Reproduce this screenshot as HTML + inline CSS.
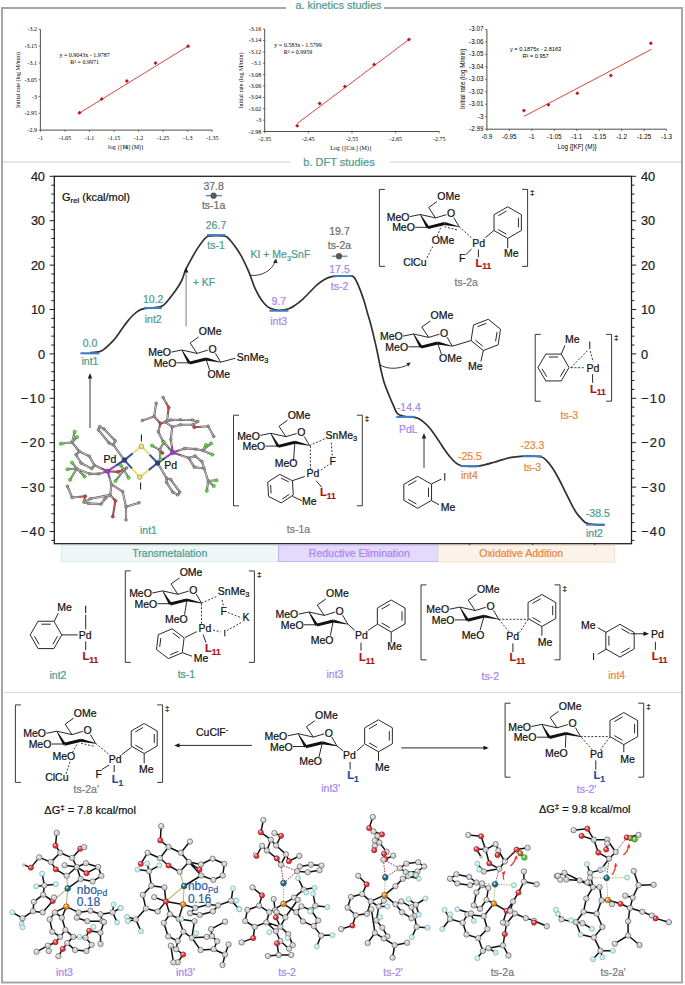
<!DOCTYPE html>
<html><head><meta charset="utf-8"><style>
html,body{margin:0;padding:0;background:#fff;width:685px;height:985px;overflow:hidden}
svg{display:block;font-family:"Liberation Sans",sans-serif}
</style></head><body>
<svg width="685" height="985" viewBox="0 0 685 985">
<rect x="2" y="8" width="680" height="974.5" fill="none" stroke="#a6a6a6" stroke-width="2"/>
<rect x="286" y="0" width="98" height="12" fill="#fff"/>
<text x="338.5" y="9" font-size="10.9" fill="#4f9a8f" stroke="#4f9a8f" stroke-width="0.22" text-anchor="middle" font-family="Liberation Sans">a. kinetics studies</text>
<line x1="3" y1="162" x2="290" y2="162" stroke="#e0dede" stroke-width="1.5"/>
<line x1="390" y1="162" x2="681" y2="162" stroke="#e0dede" stroke-width="1.5"/>
<text x="339" y="166" font-size="11" fill="#4f9a8f" stroke="#4f9a8f" stroke-width="0.22" text-anchor="middle" font-family="Liberation Sans">b. DFT studies</text>
<line x1="3" y1="692.5" x2="681" y2="692.5" stroke="#dcdcdc" stroke-width="1.2"/>
<g font-family="Liberation Serif" font-size="6" fill="#000">
<line x1="40.4" y1="29.4" x2="40.4" y2="130.1" stroke="#222" stroke-width="0.8"/>
<line x1="40.4" y1="130.1" x2="212.2" y2="130.1" stroke="#222" stroke-width="0.8"/>
<line x1="38.60" y1="29.40" x2="40.4" y2="29.40" stroke="#222" stroke-width="0.6"/>
<text x="36.90" y="31.40" text-anchor="end">-3.2</text>
<line x1="38.60" y1="46.18" x2="40.4" y2="46.18" stroke="#222" stroke-width="0.6"/>
<text x="36.90" y="48.18" text-anchor="end">-3.15</text>
<line x1="38.60" y1="62.97" x2="40.4" y2="62.97" stroke="#222" stroke-width="0.6"/>
<text x="36.90" y="64.97" text-anchor="end">-3.1</text>
<line x1="38.60" y1="79.75" x2="40.4" y2="79.75" stroke="#222" stroke-width="0.6"/>
<text x="36.90" y="81.75" text-anchor="end">-3.05</text>
<line x1="38.60" y1="96.53" x2="40.4" y2="96.53" stroke="#222" stroke-width="0.6"/>
<text x="36.90" y="98.53" text-anchor="end">-3</text>
<line x1="38.60" y1="113.32" x2="40.4" y2="113.32" stroke="#222" stroke-width="0.6"/>
<text x="36.90" y="115.32" text-anchor="end">-2.95</text>
<line x1="38.60" y1="130.10" x2="40.4" y2="130.10" stroke="#222" stroke-width="0.6"/>
<text x="36.90" y="132.10" text-anchor="end">-2.9</text>
<line x1="40.40" y1="130.1" x2="40.40" y2="131.9" stroke="#222" stroke-width="0.6"/>
<text x="40.40" y="139.50" text-anchor="middle">-1</text>
<line x1="64.94" y1="130.1" x2="64.94" y2="131.9" stroke="#222" stroke-width="0.6"/>
<text x="64.94" y="139.50" text-anchor="middle">-1.05</text>
<line x1="89.49" y1="130.1" x2="89.49" y2="131.9" stroke="#222" stroke-width="0.6"/>
<text x="89.49" y="139.50" text-anchor="middle">-1.1</text>
<line x1="114.03" y1="130.1" x2="114.03" y2="131.9" stroke="#222" stroke-width="0.6"/>
<text x="114.03" y="139.50" text-anchor="middle">-1.15</text>
<line x1="138.57" y1="130.1" x2="138.57" y2="131.9" stroke="#222" stroke-width="0.6"/>
<text x="138.57" y="139.50" text-anchor="middle">-1.2</text>
<line x1="163.11" y1="130.1" x2="163.11" y2="131.9" stroke="#222" stroke-width="0.6"/>
<text x="163.11" y="139.50" text-anchor="middle">-1.25</text>
<line x1="187.66" y1="130.1" x2="187.66" y2="131.9" stroke="#222" stroke-width="0.6"/>
<text x="187.66" y="139.50" text-anchor="middle">-1.3</text>
<line x1="212.20" y1="130.1" x2="212.20" y2="131.9" stroke="#222" stroke-width="0.6"/>
<text x="212.20" y="139.50" text-anchor="middle">-1.35</text>
<line x1="77.9" y1="114" x2="189.7" y2="45.2" stroke="#d0312d" stroke-width="0.9"/>
<path d="M77.60 112.70L79.60 110.70L81.60 112.70L79.60 114.70Z" fill="#c0171c"/>
<path d="M99.70 98.90L101.70 96.90L103.70 98.90L101.70 100.90Z" fill="#c0171c"/>
<path d="M124.90 81.10L126.90 79.10L128.90 81.10L126.90 83.10Z" fill="#c0171c"/>
<path d="M153.50 63.00L155.50 61.00L157.50 63.00L155.50 65.00Z" fill="#c0171c"/>
<path d="M186.00 46.20L188.00 44.20L190.00 46.20L188.00 48.20Z" fill="#c0171c"/>
<text x="84.6" y="56.5" text-anchor="middle" font-size="6">y = 0.9043x - 1.9787</text>
<text x="84.6" y="63.70" text-anchor="middle" font-size="6">R² = 0.9971</text>
<text x="126" y="148.6" text-anchor="middle">log {[<tspan font-weight="bold">16</tspan>] (M)}</text>
<text transform="translate(19.5,80) rotate(-90)" text-anchor="middle">Initial rate (log M/min)</text>
</g>
<g font-family="Liberation Serif" font-size="6" fill="#000">
<line x1="264.7" y1="29.1" x2="264.7" y2="131.5" stroke="#222" stroke-width="0.8"/>
<line x1="264.7" y1="131.5" x2="439.3" y2="131.5" stroke="#222" stroke-width="0.8"/>
<line x1="262.90" y1="29.10" x2="264.7" y2="29.10" stroke="#222" stroke-width="0.6"/>
<text x="261.20" y="31.10" text-anchor="end">-3.16</text>
<line x1="262.90" y1="40.48" x2="264.7" y2="40.48" stroke="#222" stroke-width="0.6"/>
<text x="261.20" y="42.48" text-anchor="end">-3.14</text>
<line x1="262.90" y1="51.86" x2="264.7" y2="51.86" stroke="#222" stroke-width="0.6"/>
<text x="261.20" y="53.86" text-anchor="end">-3.12</text>
<line x1="262.90" y1="63.23" x2="264.7" y2="63.23" stroke="#222" stroke-width="0.6"/>
<text x="261.20" y="65.23" text-anchor="end">-3.1</text>
<line x1="262.90" y1="74.61" x2="264.7" y2="74.61" stroke="#222" stroke-width="0.6"/>
<text x="261.20" y="76.61" text-anchor="end">-3.08</text>
<line x1="262.90" y1="85.99" x2="264.7" y2="85.99" stroke="#222" stroke-width="0.6"/>
<text x="261.20" y="87.99" text-anchor="end">-3.06</text>
<line x1="262.90" y1="97.37" x2="264.7" y2="97.37" stroke="#222" stroke-width="0.6"/>
<text x="261.20" y="99.37" text-anchor="end">-3.04</text>
<line x1="262.90" y1="108.74" x2="264.7" y2="108.74" stroke="#222" stroke-width="0.6"/>
<text x="261.20" y="110.74" text-anchor="end">-3.02</text>
<line x1="262.90" y1="120.12" x2="264.7" y2="120.12" stroke="#222" stroke-width="0.6"/>
<text x="261.20" y="122.12" text-anchor="end">-3</text>
<line x1="262.90" y1="131.50" x2="264.7" y2="131.50" stroke="#222" stroke-width="0.6"/>
<text x="261.20" y="133.50" text-anchor="end">-2.98</text>
<line x1="264.70" y1="131.5" x2="264.70" y2="133.3" stroke="#222" stroke-width="0.6"/>
<text x="264.70" y="140.60" text-anchor="middle">-2.35</text>
<line x1="308.35" y1="131.5" x2="308.35" y2="133.3" stroke="#222" stroke-width="0.6"/>
<text x="308.35" y="140.60" text-anchor="middle">-2.45</text>
<line x1="352.00" y1="131.5" x2="352.00" y2="133.3" stroke="#222" stroke-width="0.6"/>
<text x="352.00" y="140.60" text-anchor="middle">-2.55</text>
<line x1="395.65" y1="131.5" x2="395.65" y2="133.3" stroke="#222" stroke-width="0.6"/>
<text x="395.65" y="140.60" text-anchor="middle">-2.65</text>
<line x1="439.30" y1="131.5" x2="439.30" y2="133.3" stroke="#222" stroke-width="0.6"/>
<text x="439.30" y="140.60" text-anchor="middle">-2.75</text>
<line x1="297.2" y1="123.5" x2="409" y2="39.5" stroke="#d0312d" stroke-width="0.9"/>
<path d="M295.20 125.80L297.20 123.80L299.20 125.80L297.20 127.80Z" fill="#c0171c"/>
<path d="M317.70 103.60L319.70 101.60L321.70 103.60L319.70 105.60Z" fill="#c0171c"/>
<path d="M342.90 86.50L344.90 84.50L346.90 86.50L344.90 88.50Z" fill="#c0171c"/>
<path d="M372.10 64.40L374.10 62.40L376.10 64.40L374.10 66.40Z" fill="#c0171c"/>
<path d="M407.00 39.50L409.00 37.50L411.00 39.50L409.00 41.50Z" fill="#c0171c"/>
<text x="298" y="46.5" text-anchor="middle" font-size="6">y = 0.583x - 1.5799</text>
<text x="298" y="53.70" text-anchor="middle" font-size="6">R² = 0.9959</text>
<text x="351" y="149.6" text-anchor="middle">Log {[Cat.] (M)}</text>
<text transform="translate(242.8,80.5) rotate(-90)" text-anchor="middle">Initial rate (log M/min)</text>
</g>
<g font-family="Liberation Sans" font-size="6.3" fill="#000">
<line x1="486.9" y1="29.4" x2="486.9" y2="129.2" stroke="#222" stroke-width="0.8"/>
<line x1="486.9" y1="129.2" x2="666.6" y2="129.2" stroke="#222" stroke-width="0.8"/>
<line x1="485.10" y1="29.40" x2="486.9" y2="29.40" stroke="#222" stroke-width="0.6"/>
<text x="483.40" y="31.40" text-anchor="end">-3.07</text>
<line x1="485.10" y1="41.88" x2="486.9" y2="41.88" stroke="#222" stroke-width="0.6"/>
<text x="483.40" y="43.88" text-anchor="end">-3.06</text>
<line x1="485.10" y1="54.35" x2="486.9" y2="54.35" stroke="#222" stroke-width="0.6"/>
<text x="483.40" y="56.35" text-anchor="end">-3.05</text>
<line x1="485.10" y1="66.82" x2="486.9" y2="66.82" stroke="#222" stroke-width="0.6"/>
<text x="483.40" y="68.82" text-anchor="end">-3.04</text>
<line x1="485.10" y1="79.30" x2="486.9" y2="79.30" stroke="#222" stroke-width="0.6"/>
<text x="483.40" y="81.30" text-anchor="end">-3.03</text>
<line x1="485.10" y1="91.77" x2="486.9" y2="91.77" stroke="#222" stroke-width="0.6"/>
<text x="483.40" y="93.77" text-anchor="end">-3.02</text>
<line x1="485.10" y1="104.25" x2="486.9" y2="104.25" stroke="#222" stroke-width="0.6"/>
<text x="483.40" y="106.25" text-anchor="end">-3.01</text>
<line x1="485.10" y1="116.72" x2="486.9" y2="116.72" stroke="#222" stroke-width="0.6"/>
<text x="483.40" y="118.72" text-anchor="end">-3</text>
<line x1="485.10" y1="129.20" x2="486.9" y2="129.20" stroke="#222" stroke-width="0.6"/>
<text x="483.40" y="131.20" text-anchor="end">-2.99</text>
<line x1="486.90" y1="129.2" x2="486.90" y2="131.0" stroke="#222" stroke-width="0.6"/>
<text x="486.90" y="138.80" text-anchor="middle">-0.9</text>
<line x1="509.36" y1="129.2" x2="509.36" y2="131.0" stroke="#222" stroke-width="0.6"/>
<text x="509.36" y="138.80" text-anchor="middle">-0.95</text>
<line x1="531.83" y1="129.2" x2="531.83" y2="131.0" stroke="#222" stroke-width="0.6"/>
<text x="531.83" y="138.80" text-anchor="middle">-1</text>
<line x1="554.29" y1="129.2" x2="554.29" y2="131.0" stroke="#222" stroke-width="0.6"/>
<text x="554.29" y="138.80" text-anchor="middle">-1.05</text>
<line x1="576.75" y1="129.2" x2="576.75" y2="131.0" stroke="#222" stroke-width="0.6"/>
<text x="576.75" y="138.80" text-anchor="middle">-1.1</text>
<line x1="599.21" y1="129.2" x2="599.21" y2="131.0" stroke="#222" stroke-width="0.6"/>
<text x="599.21" y="138.80" text-anchor="middle">-1.15</text>
<line x1="621.67" y1="129.2" x2="621.67" y2="131.0" stroke="#222" stroke-width="0.6"/>
<text x="621.67" y="138.80" text-anchor="middle">-1.2</text>
<line x1="644.14" y1="129.2" x2="644.14" y2="131.0" stroke="#222" stroke-width="0.6"/>
<text x="644.14" y="138.80" text-anchor="middle">-1.25</text>
<line x1="666.60" y1="129.2" x2="666.60" y2="131.0" stroke="#222" stroke-width="0.6"/>
<text x="666.60" y="138.80" text-anchor="middle">-1.3</text>
<line x1="523.9" y1="116.4" x2="651.5" y2="49.3" stroke="#d0312d" stroke-width="0.9"/>
<path d="M521.90 110.40L523.90 108.40L525.90 110.40L523.90 112.40Z" fill="#c0171c"/>
<path d="M546.40 104.70L548.40 102.70L550.40 104.70L548.40 106.70Z" fill="#c0171c"/>
<path d="M575.30 93.20L577.30 91.20L579.30 93.20L577.30 95.20Z" fill="#c0171c"/>
<path d="M608.80 75.40L610.80 73.40L612.80 75.40L610.80 77.40Z" fill="#c0171c"/>
<path d="M648.80 43.20L650.80 41.20L652.80 43.20L650.80 45.20Z" fill="#c0171c"/>
<text x="535.6" y="50.5" text-anchor="middle" font-size="5.6">y = 0.1875x - 2.8163</text>
<text x="535.6" y="57.70" text-anchor="middle" font-size="5.6">R² = 0.957</text>
<text x="577" y="148.6" text-anchor="middle">Log {[KF] (M)}</text>
<text transform="translate(465.4,78.8) rotate(-90)" text-anchor="middle">Initial rate (log M/min)</text>
</g>
<rect x="54.3" y="176.3" width="577.2" height="367.40000000000003" fill="none" stroke="#222" stroke-width="1.3"/>
<line x1="51.3" y1="540.38" x2="54.3" y2="540.38" stroke="#222" stroke-width="1"/>
<line x1="631.5" y1="540.38" x2="634.5" y2="540.38" stroke="#222" stroke-width="1"/>
<line x1="49.599999999999994" y1="531.50" x2="54.3" y2="531.50" stroke="#222" stroke-width="1"/>
<line x1="631.5" y1="531.50" x2="636.2" y2="531.50" stroke="#222" stroke-width="1"/>
<text x="20.70" y="536.10" font-size="12.8" fill="#222" stroke="#222" stroke-width="0.22" textLength="24.2" lengthAdjust="spacing">−40</text>
<text x="641.1" y="536.10" font-size="12.8" fill="#222" stroke="#222" stroke-width="0.22" textLength="24.2" lengthAdjust="spacing">−40</text>
<line x1="51.3" y1="522.62" x2="54.3" y2="522.62" stroke="#222" stroke-width="1"/>
<line x1="631.5" y1="522.62" x2="634.5" y2="522.62" stroke="#222" stroke-width="1"/>
<line x1="51.3" y1="513.74" x2="54.3" y2="513.74" stroke="#222" stroke-width="1"/>
<line x1="631.5" y1="513.74" x2="634.5" y2="513.74" stroke="#222" stroke-width="1"/>
<line x1="51.3" y1="504.86" x2="54.3" y2="504.86" stroke="#222" stroke-width="1"/>
<line x1="631.5" y1="504.86" x2="634.5" y2="504.86" stroke="#222" stroke-width="1"/>
<line x1="51.3" y1="495.98" x2="54.3" y2="495.98" stroke="#222" stroke-width="1"/>
<line x1="631.5" y1="495.98" x2="634.5" y2="495.98" stroke="#222" stroke-width="1"/>
<line x1="49.599999999999994" y1="487.10" x2="54.3" y2="487.10" stroke="#222" stroke-width="1"/>
<line x1="631.5" y1="487.10" x2="636.2" y2="487.10" stroke="#222" stroke-width="1"/>
<text x="20.70" y="491.70" font-size="12.8" fill="#222" stroke="#222" stroke-width="0.22" textLength="24.2" lengthAdjust="spacing">−30</text>
<text x="641.1" y="491.70" font-size="12.8" fill="#222" stroke="#222" stroke-width="0.22" textLength="24.2" lengthAdjust="spacing">−30</text>
<line x1="51.3" y1="478.22" x2="54.3" y2="478.22" stroke="#222" stroke-width="1"/>
<line x1="631.5" y1="478.22" x2="634.5" y2="478.22" stroke="#222" stroke-width="1"/>
<line x1="51.3" y1="469.34" x2="54.3" y2="469.34" stroke="#222" stroke-width="1"/>
<line x1="631.5" y1="469.34" x2="634.5" y2="469.34" stroke="#222" stroke-width="1"/>
<line x1="51.3" y1="460.46" x2="54.3" y2="460.46" stroke="#222" stroke-width="1"/>
<line x1="631.5" y1="460.46" x2="634.5" y2="460.46" stroke="#222" stroke-width="1"/>
<line x1="51.3" y1="451.58" x2="54.3" y2="451.58" stroke="#222" stroke-width="1"/>
<line x1="631.5" y1="451.58" x2="634.5" y2="451.58" stroke="#222" stroke-width="1"/>
<line x1="49.599999999999994" y1="442.70" x2="54.3" y2="442.70" stroke="#222" stroke-width="1"/>
<line x1="631.5" y1="442.70" x2="636.2" y2="442.70" stroke="#222" stroke-width="1"/>
<text x="20.70" y="447.30" font-size="12.8" fill="#222" stroke="#222" stroke-width="0.22" textLength="24.2" lengthAdjust="spacing">−20</text>
<text x="641.1" y="447.30" font-size="12.8" fill="#222" stroke="#222" stroke-width="0.22" textLength="24.2" lengthAdjust="spacing">−20</text>
<line x1="51.3" y1="433.82" x2="54.3" y2="433.82" stroke="#222" stroke-width="1"/>
<line x1="631.5" y1="433.82" x2="634.5" y2="433.82" stroke="#222" stroke-width="1"/>
<line x1="51.3" y1="424.94" x2="54.3" y2="424.94" stroke="#222" stroke-width="1"/>
<line x1="631.5" y1="424.94" x2="634.5" y2="424.94" stroke="#222" stroke-width="1"/>
<line x1="51.3" y1="416.06" x2="54.3" y2="416.06" stroke="#222" stroke-width="1"/>
<line x1="631.5" y1="416.06" x2="634.5" y2="416.06" stroke="#222" stroke-width="1"/>
<line x1="51.3" y1="407.18" x2="54.3" y2="407.18" stroke="#222" stroke-width="1"/>
<line x1="631.5" y1="407.18" x2="634.5" y2="407.18" stroke="#222" stroke-width="1"/>
<line x1="49.599999999999994" y1="398.30" x2="54.3" y2="398.30" stroke="#222" stroke-width="1"/>
<line x1="631.5" y1="398.30" x2="636.2" y2="398.30" stroke="#222" stroke-width="1"/>
<text x="20.70" y="402.90" font-size="12.8" fill="#222" stroke="#222" stroke-width="0.22" textLength="24.2" lengthAdjust="spacing">−10</text>
<text x="641.1" y="402.90" font-size="12.8" fill="#222" stroke="#222" stroke-width="0.22" textLength="24.2" lengthAdjust="spacing">−10</text>
<line x1="51.3" y1="389.42" x2="54.3" y2="389.42" stroke="#222" stroke-width="1"/>
<line x1="631.5" y1="389.42" x2="634.5" y2="389.42" stroke="#222" stroke-width="1"/>
<line x1="51.3" y1="380.54" x2="54.3" y2="380.54" stroke="#222" stroke-width="1"/>
<line x1="631.5" y1="380.54" x2="634.5" y2="380.54" stroke="#222" stroke-width="1"/>
<line x1="51.3" y1="371.66" x2="54.3" y2="371.66" stroke="#222" stroke-width="1"/>
<line x1="631.5" y1="371.66" x2="634.5" y2="371.66" stroke="#222" stroke-width="1"/>
<line x1="51.3" y1="362.78" x2="54.3" y2="362.78" stroke="#222" stroke-width="1"/>
<line x1="631.5" y1="362.78" x2="634.5" y2="362.78" stroke="#222" stroke-width="1"/>
<line x1="49.599999999999994" y1="353.90" x2="54.3" y2="353.90" stroke="#222" stroke-width="1"/>
<line x1="631.5" y1="353.90" x2="636.2" y2="353.90" stroke="#222" stroke-width="1"/>
<text x="38.00" y="358.50" font-size="12.8" fill="#222" stroke="#222" stroke-width="0.22" textLength="6.9" lengthAdjust="spacing">0</text>
<text x="641.1" y="358.50" font-size="12.8" fill="#222" stroke="#222" stroke-width="0.22" textLength="6.9" lengthAdjust="spacing">0</text>
<line x1="51.3" y1="345.02" x2="54.3" y2="345.02" stroke="#222" stroke-width="1"/>
<line x1="631.5" y1="345.02" x2="634.5" y2="345.02" stroke="#222" stroke-width="1"/>
<line x1="51.3" y1="336.14" x2="54.3" y2="336.14" stroke="#222" stroke-width="1"/>
<line x1="631.5" y1="336.14" x2="634.5" y2="336.14" stroke="#222" stroke-width="1"/>
<line x1="51.3" y1="327.26" x2="54.3" y2="327.26" stroke="#222" stroke-width="1"/>
<line x1="631.5" y1="327.26" x2="634.5" y2="327.26" stroke="#222" stroke-width="1"/>
<line x1="51.3" y1="318.38" x2="54.3" y2="318.38" stroke="#222" stroke-width="1"/>
<line x1="631.5" y1="318.38" x2="634.5" y2="318.38" stroke="#222" stroke-width="1"/>
<line x1="49.599999999999994" y1="309.50" x2="54.3" y2="309.50" stroke="#222" stroke-width="1"/>
<line x1="631.5" y1="309.50" x2="636.2" y2="309.50" stroke="#222" stroke-width="1"/>
<text x="30.90" y="314.10" font-size="12.8" fill="#222" stroke="#222" stroke-width="0.22" textLength="14.0" lengthAdjust="spacing">10</text>
<text x="641.1" y="314.10" font-size="12.8" fill="#222" stroke="#222" stroke-width="0.22" textLength="14.0" lengthAdjust="spacing">10</text>
<line x1="51.3" y1="300.62" x2="54.3" y2="300.62" stroke="#222" stroke-width="1"/>
<line x1="631.5" y1="300.62" x2="634.5" y2="300.62" stroke="#222" stroke-width="1"/>
<line x1="51.3" y1="291.74" x2="54.3" y2="291.74" stroke="#222" stroke-width="1"/>
<line x1="631.5" y1="291.74" x2="634.5" y2="291.74" stroke="#222" stroke-width="1"/>
<line x1="51.3" y1="282.86" x2="54.3" y2="282.86" stroke="#222" stroke-width="1"/>
<line x1="631.5" y1="282.86" x2="634.5" y2="282.86" stroke="#222" stroke-width="1"/>
<line x1="51.3" y1="273.98" x2="54.3" y2="273.98" stroke="#222" stroke-width="1"/>
<line x1="631.5" y1="273.98" x2="634.5" y2="273.98" stroke="#222" stroke-width="1"/>
<line x1="49.599999999999994" y1="265.10" x2="54.3" y2="265.10" stroke="#222" stroke-width="1"/>
<line x1="631.5" y1="265.10" x2="636.2" y2="265.10" stroke="#222" stroke-width="1"/>
<text x="30.90" y="269.70" font-size="12.8" fill="#222" stroke="#222" stroke-width="0.22" textLength="14.0" lengthAdjust="spacing">20</text>
<text x="641.1" y="269.70" font-size="12.8" fill="#222" stroke="#222" stroke-width="0.22" textLength="14.0" lengthAdjust="spacing">20</text>
<line x1="51.3" y1="256.22" x2="54.3" y2="256.22" stroke="#222" stroke-width="1"/>
<line x1="631.5" y1="256.22" x2="634.5" y2="256.22" stroke="#222" stroke-width="1"/>
<line x1="51.3" y1="247.34" x2="54.3" y2="247.34" stroke="#222" stroke-width="1"/>
<line x1="631.5" y1="247.34" x2="634.5" y2="247.34" stroke="#222" stroke-width="1"/>
<line x1="51.3" y1="238.46" x2="54.3" y2="238.46" stroke="#222" stroke-width="1"/>
<line x1="631.5" y1="238.46" x2="634.5" y2="238.46" stroke="#222" stroke-width="1"/>
<line x1="51.3" y1="229.58" x2="54.3" y2="229.58" stroke="#222" stroke-width="1"/>
<line x1="631.5" y1="229.58" x2="634.5" y2="229.58" stroke="#222" stroke-width="1"/>
<line x1="49.599999999999994" y1="220.70" x2="54.3" y2="220.70" stroke="#222" stroke-width="1"/>
<line x1="631.5" y1="220.70" x2="636.2" y2="220.70" stroke="#222" stroke-width="1"/>
<text x="30.90" y="225.30" font-size="12.8" fill="#222" stroke="#222" stroke-width="0.22" textLength="14.0" lengthAdjust="spacing">30</text>
<text x="641.1" y="225.30" font-size="12.8" fill="#222" stroke="#222" stroke-width="0.22" textLength="14.0" lengthAdjust="spacing">30</text>
<line x1="51.3" y1="211.82" x2="54.3" y2="211.82" stroke="#222" stroke-width="1"/>
<line x1="631.5" y1="211.82" x2="634.5" y2="211.82" stroke="#222" stroke-width="1"/>
<line x1="51.3" y1="202.94" x2="54.3" y2="202.94" stroke="#222" stroke-width="1"/>
<line x1="631.5" y1="202.94" x2="634.5" y2="202.94" stroke="#222" stroke-width="1"/>
<line x1="51.3" y1="194.06" x2="54.3" y2="194.06" stroke="#222" stroke-width="1"/>
<line x1="631.5" y1="194.06" x2="634.5" y2="194.06" stroke="#222" stroke-width="1"/>
<line x1="51.3" y1="185.18" x2="54.3" y2="185.18" stroke="#222" stroke-width="1"/>
<line x1="631.5" y1="185.18" x2="634.5" y2="185.18" stroke="#222" stroke-width="1"/>
<line x1="49.599999999999994" y1="176.30" x2="54.3" y2="176.30" stroke="#222" stroke-width="1"/>
<line x1="631.5" y1="176.30" x2="636.2" y2="176.30" stroke="#222" stroke-width="1"/>
<text x="30.90" y="180.90" font-size="12.8" fill="#222" stroke="#222" stroke-width="0.22" textLength="14.0" lengthAdjust="spacing">40</text>
<text x="641.1" y="180.90" font-size="12.8" fill="#222" stroke="#222" stroke-width="0.22" textLength="14.0" lengthAdjust="spacing">40</text>
<line x1="469.4" y1="543.7" x2="469.4" y2="546.2" stroke="#222" stroke-width="1"/>
<line x1="532.7" y1="543.7" x2="532.7" y2="546.2" stroke="#222" stroke-width="1"/>
<line x1="594.8" y1="543.7" x2="594.8" y2="546.2" stroke="#222" stroke-width="1"/>
<text x="62" y="201" font-size="11" fill="#111" stroke="#111" stroke-width="0.22">G<tspan font-size="7.8" dy="2.3">rel</tspan><tspan dy="-2.3"> (kcal/mol)</tspan></text>
<path d="M90 352.6 C91.48 352.47 96.57 352.35 98.9 351.8 C101.23 351.25 102.18 350.57 104 349.3 C105.82 348.03 107.85 346.13 109.8 344.2 C111.75 342.27 113.75 340.13 115.7 337.7 C117.65 335.27 119.57 332.28 121.5 329.6 C123.43 326.92 125.35 324.03 127.3 321.6 C129.25 319.17 131.25 316.87 133.2 315 C135.15 313.13 137.18 311.47 139 310.4 C140.82 309.33 141.93 309.02 144.1 308.6 C146.27 308.18 149.08 308.28 152 307.9 C154.92 307.52 159.13 307.30 161.6 306.3 C164.07 305.30 164.97 303.85 166.8 301.9 C168.63 299.95 170.67 297.22 172.6 294.6 C174.53 291.98 176.82 288.70 178.4 286.2 C179.98 283.70 180.87 282.40 182.1 279.6 C183.33 276.80 184.20 272.95 185.8 269.4 C187.40 265.85 189.75 261.80 191.7 258.3 C193.65 254.80 195.55 251.42 197.5 248.4 C199.45 245.38 201.65 242.22 203.4 240.2 C205.15 238.18 205.90 237.07 208 236.3 C210.10 235.53 213.08 235.60 216 235.6 C218.92 235.60 223.13 235.53 225.5 236.3 C227.87 237.07 228.45 238.28 230.2 240.2 C231.95 242.12 234.05 244.98 236 247.8 C237.95 250.62 240.03 253.70 241.9 257.1 C243.77 260.50 245.70 264.85 247.2 268.2 C248.70 271.55 249.70 274.08 250.9 277.2 C252.10 280.32 253.08 283.82 254.4 286.9 C255.72 289.98 257.22 293.02 258.8 295.7 C260.38 298.38 262.08 300.93 263.9 303 C265.72 305.07 267.18 306.88 269.7 308.1 C272.22 309.32 275.83 310.18 279 310.3 C282.17 310.42 285.98 309.67 288.7 308.8 C291.42 307.93 292.98 306.68 295.3 305.1 C297.62 303.52 300.17 301.48 302.6 299.3 C305.03 297.12 307.47 294.43 309.9 292 C312.33 289.57 314.77 286.77 317.2 284.7 C319.63 282.63 322.07 280.93 324.5 279.6 C326.93 278.27 328.88 277.33 331.8 276.7 C334.72 276.07 338.60 275.88 342 275.8 C345.40 275.72 350.05 275.73 352.2 276.2 C354.35 276.67 353.95 277.25 354.9 278.6 C355.85 279.95 356.87 282.00 357.9 284.3 C358.93 286.60 360.02 289.43 361.1 292.4 C362.18 295.37 363.32 298.58 364.4 302.1 C365.48 305.62 366.52 309.70 367.6 313.5 C368.68 317.30 369.82 320.83 370.9 324.9 C371.98 328.97 373.02 333.30 374.1 337.9 C375.18 342.50 376.30 347.37 377.4 352.5 C378.50 357.63 379.62 363.83 380.7 368.7 C381.78 373.57 382.55 377.37 383.9 381.7 C385.25 386.03 387.17 390.63 388.8 394.7 C390.43 398.77 392.25 402.95 393.7 406.1 C395.15 409.25 395.53 411.85 397.5 413.6 C399.47 415.35 402.68 415.97 405.5 416.6 C408.32 417.23 412.18 417.03 414.4 417.4 C416.62 417.77 417.20 417.98 418.8 418.8 C420.40 419.62 422.25 420.85 424 422.3 C425.75 423.75 427.55 425.47 429.3 427.5 C431.05 429.53 432.75 432.02 434.5 434.5 C436.25 436.98 438.05 439.77 439.8 442.4 C441.55 445.03 443.25 447.82 445 450.3 C446.75 452.78 448.55 455.25 450.3 457.3 C452.05 459.35 453.75 461.23 455.5 462.6 C457.25 463.97 458.47 464.88 460.8 465.5 C463.13 466.12 466.58 466.20 469.5 466.3 C472.42 466.40 475.67 466.37 478.3 466.1 C480.93 465.83 482.67 465.35 485.3 464.7 C487.93 464.05 491.17 463.05 494.1 462.2 C497.03 461.35 499.98 460.42 502.9 459.6 C505.82 458.78 508.68 457.85 511.6 457.3 C514.52 456.75 517.00 456.52 520.4 456.3 C523.80 456.08 528.47 455.88 532 456.0 C535.53 456.12 539.22 456.28 541.6 457 C543.98 457.72 544.78 458.90 546.3 460.3 C547.82 461.70 549.25 463.45 550.7 465.4 C552.15 467.35 553.55 469.57 555 472 C556.45 474.43 557.93 477.20 559.4 480 C560.87 482.80 562.33 485.87 563.8 488.8 C565.27 491.73 566.73 494.68 568.2 497.6 C569.67 500.52 571.15 503.63 572.6 506.3 C574.05 508.97 575.45 511.53 576.9 513.6 C578.35 515.67 579.72 517.12 581.3 518.7 C582.88 520.28 584.12 522.12 586.4 523.1 C588.68 524.08 591.95 524.28 595 524.6 C598.05 524.92 603.08 524.93 604.7 525" fill="none" stroke="#303030" stroke-width="1.7" stroke-linejoin="round"/>
<line x1="80.5" y1="353.3" x2="99.4" y2="353.3" stroke="#3f7fc0" stroke-width="2.1"/>
<line x1="144" y1="308.0" x2="161.9" y2="308.0" stroke="#3f7fc0" stroke-width="2.1"/>
<line x1="206.9" y1="235.1" x2="225.5" y2="235.1" stroke="#3f7fc0" stroke-width="2.1"/>
<line x1="269.5" y1="310.7" x2="288.5" y2="310.7" stroke="#3f7fc0" stroke-width="2.1"/>
<line x1="333.5" y1="276.0" x2="351.5" y2="276.0" stroke="#3f7fc0" stroke-width="2.1"/>
<line x1="396.3" y1="416.9" x2="414.8" y2="416.9" stroke="#3f7fc0" stroke-width="2.1"/>
<line x1="460.6" y1="466.1" x2="478.6" y2="466.1" stroke="#3f7fc0" stroke-width="2.1"/>
<line x1="522.7" y1="456.2" x2="541.5" y2="456.2" stroke="#3f7fc0" stroke-width="2.1"/>
<line x1="586.2" y1="524.6" x2="604.4" y2="524.6" stroke="#3f7fc0" stroke-width="2.1"/>
<line x1="205.7" y1="195.7" x2="222" y2="195.7" stroke="#3f7fc0" stroke-width="1.2"/>
<circle cx="213.6" cy="195.7" r="3.1" fill="#5a5a5a"/>
<line x1="331.9" y1="256.2" x2="347.4" y2="256.2" stroke="#3f7fc0" stroke-width="1.2"/>
<circle cx="339" cy="256.2" r="3.1" fill="#5a5a5a"/>
<text x="90" y="346.6" font-size="10.5" fill="#4f9a8f" stroke="#4f9a8f" stroke-width="0.22" text-anchor="middle">0.0</text>
<text x="90" y="364.5" font-size="10.5" fill="#4f9a8f" stroke="#4f9a8f" stroke-width="0.22" text-anchor="middle">int1</text>
<text x="153.2" y="303.3" font-size="10.5" fill="#4f9a8f" stroke="#4f9a8f" stroke-width="0.22" text-anchor="middle">10.2</text>
<text x="153.2" y="322.5" font-size="10.5" fill="#4f9a8f" stroke="#4f9a8f" stroke-width="0.22" text-anchor="middle">int2</text>
<text x="216" y="229.1" font-size="10.5" fill="#4f9a8f" stroke="#4f9a8f" stroke-width="0.22" text-anchor="middle">26.7</text>
<text x="216" y="249.3" font-size="10.5" fill="#4f9a8f" stroke="#4f9a8f" stroke-width="0.22" text-anchor="middle">ts-1</text>
<text x="213.6" y="189.7" font-size="10.5" fill="#6d6d6d" stroke="#6d6d6d" stroke-width="0.22" text-anchor="middle">37.8</text>
<text x="213.6" y="209.4" font-size="10.5" fill="#6d6d6d" stroke="#6d6d6d" stroke-width="0.22" text-anchor="middle">ts-1a</text>
<text x="278.7" y="304.5" font-size="10.5" fill="#a886ee" stroke="#a886ee" stroke-width="0.22" text-anchor="middle">9.7</text>
<text x="278.7" y="325" font-size="10.5" fill="#a886ee" stroke="#a886ee" stroke-width="0.22" text-anchor="middle">int3</text>
<text x="339.5" y="272.5" font-size="10.5" fill="#a886ee" stroke="#a886ee" stroke-width="0.22" text-anchor="middle">17.5</text>
<text x="339.5" y="290.3" font-size="10.5" fill="#a886ee" stroke="#a886ee" stroke-width="0.22" text-anchor="middle">ts-2</text>
<text x="339.5" y="235.2" font-size="10.5" fill="#6d6d6d" stroke="#6d6d6d" stroke-width="0.22" text-anchor="middle">19.7</text>
<text x="339.5" y="248.8" font-size="10.5" fill="#6d6d6d" stroke="#6d6d6d" stroke-width="0.22" text-anchor="middle">ts-2a</text>
<text x="408.8" y="411.4" font-size="10.5" fill="#a886ee" stroke="#a886ee" stroke-width="0.22" text-anchor="middle">-14.4</text>
<text x="408.3" y="432.9" font-size="10.5" fill="#a886ee" stroke="#a886ee" stroke-width="0.22" text-anchor="middle">PdL</text>
<text x="470" y="459.6" font-size="10.5" fill="#e8873a" stroke="#e8873a" stroke-width="0.22" text-anchor="middle">-25.5</text>
<text x="469.4" y="479" font-size="10.5" fill="#e8873a" stroke="#e8873a" stroke-width="0.22" text-anchor="middle">int4</text>
<text x="532.4" y="449.4" font-size="10.5" fill="#e8873a" stroke="#e8873a" stroke-width="0.22" text-anchor="middle">-23.3</text>
<text x="532.4" y="470.7" font-size="10.5" fill="#e8873a" stroke="#e8873a" stroke-width="0.22" text-anchor="middle">ts-3</text>
<text x="597.8" y="516.5" font-size="10.5" fill="#4f9a8f" stroke="#4f9a8f" stroke-width="0.22" text-anchor="middle">-38.5</text>
<text x="594.5" y="536.8" font-size="10.5" fill="#4f9a8f" stroke="#4f9a8f" stroke-width="0.22" text-anchor="middle">int2</text>
<line x1="186.1" y1="326.4" x2="186.1" y2="271" stroke="#8a8a8a" stroke-width="1.1"/>
<path d="M183.9 272.5 L186.1 266.8 L188.3 272.5 Z" fill="#222"/>
<text x="192.7" y="286.2" font-size="10.5" fill="#4f9a8f" stroke="#4f9a8f" stroke-width="0.22">+ KF</text>
<text x="250.4" y="258" font-size="10.5" fill="#4f9a8f" stroke="#4f9a8f" stroke-width="0.22">KI + Me<tspan font-size="7.5" dy="2.5">3</tspan><tspan dy="-2.5">SnF</tspan></text>
<path d="M249.6 275.1 C262 277 272 270 275.1 261.5" fill="none" stroke="#222" stroke-width="0.9"/>
<path d="M273 262.5 L276.2 258.5 L277.5 263.3 Z" fill="#222"/>
<path d="M379.4 364.6 C388 370 400 369 408.5 364.5" fill="none" stroke="#222" stroke-width="0.9"/>
<path d="M406.5 363 L410.8 362.6 L408.3 366.4 Z" fill="#222"/>
<line x1="424" y1="468" x2="424" y2="437" stroke="#222" stroke-width="0.9"/>
<path d="M421.8 438.5 L424 433 L426.2 438.5 Z" fill="#222"/>
<line x1="90" y1="428" x2="90" y2="377" stroke="#222" stroke-width="0.9"/>
<path d="M87.8 378.5 L90 373 L92.2 378.5 Z" fill="#222"/>
<rect x="61.3" y="545.5" width="217.1" height="16.2" fill="#eef7f5" stroke="#cfe8e3" stroke-width="0.8"/>
<rect x="278.4" y="545" width="159.8" height="16.5" fill="#e4dafb" stroke="#b9a3f0" stroke-width="0.8"/>
<rect x="438.2" y="545.3" width="176.5" height="16.8" fill="#fbf2ea" stroke="#f3d9c2" stroke-width="0.8"/>
<text x="169.8" y="557" font-size="10.5" fill="#4f9a8f" stroke="#4f9a8f" stroke-width="0.22" text-anchor="middle">Transmetalation</text>
<text x="359.3" y="557" font-size="10.5" fill="#a886ee" stroke="#a886ee" stroke-width="0.22" text-anchor="middle">Reductive Elimination</text>
<text x="521.2" y="557" font-size="10.5" fill="#e8873a" stroke="#e8873a" stroke-width="0.22" text-anchor="middle">Oxidative Addition</text>
<text x="198.8" y="335.4" font-size="10.5" fill="#111" stroke="#111" stroke-width="0.22" text-anchor="start" >OMe</text>
<path d="M198.6 337.0 L190.1 343.0 L197.0 353.4" fill="none" stroke="#111" stroke-width="0.9"/>
<text x="171.0" y="356.2" font-size="10.5" fill="#111" stroke="#111" stroke-width="0.22" text-anchor="end" >MeO</text>
<line x1="171.4" y1="352.1" x2="181.8" y2="350.0" stroke="#111" stroke-width="0.9"/>
<line x1="181.8" y1="350.0" x2="197.0" y2="353.4" stroke="#111" stroke-width="0.9"/>
<line x1="197.0" y1="353.4" x2="207.8" y2="350.2" stroke="#111" stroke-width="0.9"/>
<text x="212.5" y="352.8" font-size="10.5" fill="#111" stroke="#111" stroke-width="0.22" text-anchor="middle" >O</text>
<line x1="215.4" y1="353.2" x2="220.6" y2="362.2" stroke="#111" stroke-width="0.9"/>
<path d="M220.66 361.91 L206.32 357.53 L205.68 360.47 L220.54 362.49 Z" fill="#111"/>
<path d="M205.64 357.54 L189.04 361.64 L189.76 364.56 L206.36 360.46 Z" fill="#111"/>
<path d="M190.70 362.35 L182.06 349.85 L181.54 350.15 L188.10 363.85 Z" fill="#111"/>
<text x="176.4" y="366.8" font-size="10.5" fill="#111" stroke="#111" stroke-width="0.22" text-anchor="end" >MeO</text>
<line x1="176.6" y1="362.8" x2="189.4" y2="362.8" stroke="#111" stroke-width="0.9"/>
<line x1="206.0" y1="359.0" x2="209.5" y2="369.8" stroke="#111" stroke-width="0.9"/>
<text x="207.4" y="378.4" font-size="10.5" fill="#111" stroke="#111" stroke-width="0.22" text-anchor="start" >OMe</text>
<line x1="220.6" y1="362.2" x2="235.1" y2="358.3" stroke="#111" stroke-width="0.9"/>
<text x="236.8" y="360.8" font-size="10.5" fill="#111" stroke="#111" stroke-width="0.22" text-anchor="start" >SnMe<tspan font-size="7.5" dy="2.5">3</tspan></text>
<text x="430.5" y="319.4" font-size="10.5" fill="#111" stroke="#111" stroke-width="0.22" text-anchor="start" >OMe</text>
<path d="M430.3 321.0 L421.8 327.0 L428.7 337.4" fill="none" stroke="#111" stroke-width="0.9"/>
<text x="402.7" y="340.2" font-size="10.5" fill="#111" stroke="#111" stroke-width="0.22" text-anchor="end" >MeO</text>
<line x1="403.1" y1="336.1" x2="413.5" y2="334.0" stroke="#111" stroke-width="0.9"/>
<line x1="413.5" y1="334.0" x2="428.7" y2="337.4" stroke="#111" stroke-width="0.9"/>
<line x1="428.7" y1="337.4" x2="439.5" y2="334.2" stroke="#111" stroke-width="0.9"/>
<text x="444.2" y="336.8" font-size="10.5" fill="#111" stroke="#111" stroke-width="0.22" text-anchor="middle" >O</text>
<line x1="447.1" y1="337.2" x2="452.3" y2="346.2" stroke="#111" stroke-width="0.9"/>
<path d="M452.36 345.91 L438.02 341.53 L437.38 344.47 L452.24 346.49 Z" fill="#111"/>
<path d="M437.34 341.54 L420.74 345.64 L421.46 348.56 L438.06 344.46 Z" fill="#111"/>
<path d="M422.40 346.35 L413.76 333.85 L413.24 334.15 L419.80 347.85 Z" fill="#111"/>
<text x="408.1" y="350.8" font-size="10.5" fill="#111" stroke="#111" stroke-width="0.22" text-anchor="end" >MeO</text>
<line x1="408.3" y1="346.8" x2="421.1" y2="346.8" stroke="#111" stroke-width="0.9"/>
<line x1="437.7" y1="343.0" x2="441.2" y2="353.8" stroke="#111" stroke-width="0.9"/>
<text x="439.1" y="362.4" font-size="10.5" fill="#111" stroke="#111" stroke-width="0.22" text-anchor="start" >OMe</text>
<line x1="452.3" y1="346.2" x2="470.9" y2="340.6" stroke="#111" stroke-width="0.9"/>
<path d="M471.05 340.56 L473.52 324.96 L488.27 319.29 L500.55 329.24 L498.08 344.84 L483.33 350.51 Z" fill="none" stroke="#111" stroke-width="0.9" stroke-linejoin="round"/>
<line x1="477.6" y1="326.6" x2="486.3" y2="323.3" stroke="#111" stroke-width="0.9"/>
<line x1="497.1" y1="331.9" x2="495.6" y2="341.2" stroke="#111" stroke-width="0.9"/>
<line x1="482.7" y1="346.1" x2="475.4" y2="340.2" stroke="#111" stroke-width="0.9"/>
<line x1="483.4" y1="350.2" x2="480.9" y2="361.4" stroke="#111" stroke-width="0.9"/>
<text x="468.0" y="369.6" font-size="10.5" fill="#111" stroke="#111" stroke-width="0.22" text-anchor="start" >Me</text>
<path d="M384.9 189.4 H379.4 V266.4 H384.9" fill="none" stroke="#222" stroke-width="0.9"/>
<path d="M522.1 189.4 H527.6 V266.4 H522.1" fill="none" stroke="#222" stroke-width="0.9"/>
<text x="530.1" y="195.4" font-size="8" fill="#222" stroke="#222" stroke-width="0.22" text-anchor="start" >‡</text>
<text x="437.3" y="199.9" font-size="10.5" fill="#111" stroke="#111" stroke-width="0.22" text-anchor="start" >OMe</text>
<path d="M437.1 201.5 L428.6 207.5 L435.5 217.9" fill="none" stroke="#111" stroke-width="0.9"/>
<text x="409.5" y="220.7" font-size="10.5" fill="#111" stroke="#111" stroke-width="0.22" text-anchor="end" >MeO</text>
<line x1="409.9" y1="216.6" x2="420.3" y2="214.5" stroke="#111" stroke-width="0.9"/>
<line x1="420.3" y1="214.5" x2="435.5" y2="217.9" stroke="#111" stroke-width="0.9"/>
<line x1="435.5" y1="217.9" x2="446.3" y2="214.7" stroke="#111" stroke-width="0.9"/>
<text x="451.0" y="217.3" font-size="10.5" fill="#111" stroke="#111" stroke-width="0.22" text-anchor="middle" >O</text>
<line x1="453.9" y1="217.7" x2="459.1" y2="226.7" stroke="#111" stroke-width="0.9"/>
<path d="M459.16 226.41 L444.82 222.03 L444.18 224.97 L459.04 226.99 Z" fill="#111"/>
<path d="M444.14 222.04 L427.54 226.14 L428.26 229.06 L444.86 224.96 Z" fill="#111"/>
<path d="M429.20 226.85 L420.56 214.35 L420.04 214.65 L426.60 228.35 Z" fill="#111"/>
<text x="414.9" y="231.3" font-size="10.5" fill="#111" stroke="#111" stroke-width="0.22" text-anchor="end" >MeO</text>
<line x1="415.1" y1="227.3" x2="427.9" y2="227.3" stroke="#111" stroke-width="0.9"/>
<line x1="442.1" y1="224.5" x2="437.2" y2="236.0" stroke="#222" stroke-width="0.9" stroke-dasharray="2 1.6"/>
<text x="431.7" y="244.2" font-size="10.5" fill="#111" stroke="#111" stroke-width="0.22" text-anchor="start" >OMe</text>
<line x1="444.5" y1="226.8" x2="457.5" y2="230.0" stroke="#222" stroke-width="0.9" stroke-dasharray="2 1.6"/>
<line x1="432.8" y1="246.5" x2="426.8" y2="257.9" stroke="#222" stroke-width="0.9" stroke-dasharray="2 1.6"/>
<text x="403.2" y="265.5" font-size="10.5" fill="#111" stroke="#111" stroke-width="0.22" text-anchor="start" >ClCu</text>
<line x1="459.1" y1="226.7" x2="471.5" y2="237.7" stroke="#222" stroke-width="0.9" stroke-dasharray="2 1.6"/>
<text x="472.2" y="246.5" font-size="10.5" fill="#111" stroke="#111" stroke-width="0.22" text-anchor="start" >Pd</text>
<line x1="485.3" y1="237.7" x2="493.9" y2="230.5" stroke="#111" stroke-width="0.9"/>
<path d="M494.02 230.50 L494.02 214.70 L507.70 206.80 L521.38 214.70 L521.38 230.50 L507.70 238.40 Z" fill="none" stroke="#111" stroke-width="0.9" stroke-linejoin="round"/>
<line x1="498.3" y1="215.7" x2="506.4" y2="211.0" stroke="#111" stroke-width="0.9"/>
<line x1="518.4" y1="217.9" x2="518.4" y2="227.3" stroke="#111" stroke-width="0.9"/>
<line x1="506.4" y1="234.2" x2="498.3" y2="229.5" stroke="#111" stroke-width="0.9"/>
<line x1="507.7" y1="238.4" x2="507.7" y2="248.2" stroke="#111" stroke-width="0.9"/>
<text x="504.1" y="257.4" font-size="10.5" fill="#111" stroke="#111" stroke-width="0.22" text-anchor="start" >Me</text>
<text x="459.0" y="261.7" font-size="10.5" fill="#111" stroke="#111" stroke-width="0.22" text-anchor="start" >F</text>
<line x1="465.6" y1="254.8" x2="471.5" y2="249.1" stroke="#111" stroke-width="0.9"/>
<line x1="478.4" y1="249.5" x2="478.4" y2="257.4" stroke="#111" stroke-width="0.9"/>
<text x="475.5" y="266.6" font-size="11" fill="#a4161a" stroke="#a4161a" stroke-width="0.22" font-weight="bold">L<tspan font-size="8.5" dy="2.8">11</tspan></text>
<text x="466.2" y="286.2" font-size="10.5" fill="#7a7a7a" stroke="#7a7a7a" stroke-width="0.22" text-anchor="middle" >ts-2a</text>
<path d="M540.7 334.4 H535.2 V401.2 H540.7" fill="none" stroke="#222" stroke-width="0.9"/>
<path d="M606.1 334.4 H611.6 V401.2 H606.1" fill="none" stroke="#222" stroke-width="0.9"/>
<text x="614.1" y="340.4" font-size="8" fill="#222" stroke="#222" stroke-width="0.22" text-anchor="start" >‡</text>
<path d="M569.00 367.50 L561.25 380.92 L545.75 380.92 L538.00 367.50 L545.75 354.08 L561.25 354.08 Z" fill="none" stroke="#111" stroke-width="0.9" stroke-linejoin="round"/>
<line x1="564.9" y1="368.8" x2="560.3" y2="376.7" stroke="#111" stroke-width="0.9"/>
<line x1="546.7" y1="376.7" x2="542.1" y2="368.8" stroke="#111" stroke-width="0.9"/>
<line x1="548.9" y1="357.0" x2="558.1" y2="357.0" stroke="#111" stroke-width="0.9"/>
<line x1="561.3" y1="354.1" x2="565.0" y2="345.3" stroke="#111" stroke-width="0.9"/>
<text x="565.0" y="343.4" font-size="10.5" fill="#111" stroke="#111" stroke-width="0.22" text-anchor="start" >Me</text>
<line x1="589.8" y1="341.6" x2="589.8" y2="348.9" stroke="#111" stroke-width="1.0"/>
<line x1="570.9" y1="367.7" x2="588.6" y2="349.5" stroke="#222" stroke-width="0.9" stroke-dasharray="2 1.6"/>
<line x1="570.9" y1="367.7" x2="585.3" y2="367.7" stroke="#222" stroke-width="0.9" stroke-dasharray="2 1.6"/>
<line x1="590.2" y1="351.0" x2="593.2" y2="361.8" stroke="#222" stroke-width="0.9" stroke-dasharray="2 1.6"/>
<text x="586.6" y="371.6" font-size="10.5" fill="#111" stroke="#111" stroke-width="0.22" text-anchor="start" >Pd</text>
<line x1="592.6" y1="374.2" x2="592.6" y2="382.8" stroke="#111" stroke-width="0.9"/>
<text x="590.0" y="392.6" font-size="11" fill="#a4161a" stroke="#a4161a" stroke-width="0.22" font-weight="bold">L<tspan font-size="8.5" dy="2.8">11</tspan></text>
<text x="569.3" y="418.9" font-size="10.5" fill="#e8873a" stroke="#e8873a" stroke-width="0.22" text-anchor="middle" >ts-3</text>
<path d="M239.0 415.2 H233.5 V505.8 H239.0" fill="none" stroke="#222" stroke-width="0.9"/>
<path d="M356.8 415.2 H362.3 V505.8 H356.8" fill="none" stroke="#222" stroke-width="0.9"/>
<text x="364.8" y="421.2" font-size="8" fill="#222" stroke="#222" stroke-width="0.22" text-anchor="start" >‡</text>
<text x="287.7" y="418.7" font-size="10.5" fill="#111" stroke="#111" stroke-width="0.22" text-anchor="start" >OMe</text>
<path d="M287.5 420.3 L279.0 426.3 L285.9 436.7" fill="none" stroke="#111" stroke-width="0.9"/>
<text x="259.9" y="439.5" font-size="10.5" fill="#111" stroke="#111" stroke-width="0.22" text-anchor="end" >MeO</text>
<line x1="260.3" y1="435.4" x2="270.7" y2="433.3" stroke="#111" stroke-width="0.9"/>
<line x1="270.7" y1="433.3" x2="285.9" y2="436.7" stroke="#111" stroke-width="0.9"/>
<line x1="285.9" y1="436.7" x2="296.7" y2="433.5" stroke="#111" stroke-width="0.9"/>
<text x="301.4" y="436.1" font-size="10.5" fill="#111" stroke="#111" stroke-width="0.22" text-anchor="middle" >O</text>
<line x1="304.3" y1="436.5" x2="309.5" y2="445.5" stroke="#111" stroke-width="0.9"/>
<path d="M309.56 445.21 L295.22 440.83 L294.58 443.77 L309.44 445.79 Z" fill="#111"/>
<path d="M294.54 440.84 L277.94 444.94 L278.66 447.86 L295.26 443.76 Z" fill="#111"/>
<path d="M279.60 445.65 L270.96 433.15 L270.44 433.45 L277.00 447.15 Z" fill="#111"/>
<text x="265.3" y="450.1" font-size="10.5" fill="#111" stroke="#111" stroke-width="0.22" text-anchor="end" >MeO</text>
<line x1="265.5" y1="446.1" x2="278.3" y2="446.1" stroke="#111" stroke-width="0.9"/>
<line x1="294.9" y1="442.3" x2="293.5" y2="461.0" stroke="#111" stroke-width="0.9"/>
<text x="297.5" y="467.4" font-size="10.5" fill="#111" stroke="#111" stroke-width="0.22" text-anchor="end" >MeO</text>
<line x1="309.5" y1="445.5" x2="324.6" y2="438.9" stroke="#222" stroke-width="0.9" stroke-dasharray="2 1.6"/>
<text x="325.6" y="438.9" font-size="10.5" fill="#111" stroke="#111" stroke-width="0.22" text-anchor="start" >SnMe<tspan font-size="7.5" dy="2.5">3</tspan></text>
<line x1="331.3" y1="442.7" x2="332.2" y2="455.5" stroke="#222" stroke-width="0.9" stroke-dasharray="2 1.6"/>
<text x="329.4" y="464.5" font-size="10.5" fill="#111" stroke="#111" stroke-width="0.22" text-anchor="start" >F</text>
<line x1="310.4" y1="446.0" x2="310.4" y2="469.2" stroke="#222" stroke-width="0.9" stroke-dasharray="2 1.6"/>
<text x="306.6" y="476.9" font-size="10.5" fill="#111" stroke="#111" stroke-width="0.22" text-anchor="start" >Pd</text>
<line x1="328.4" y1="464.8" x2="320.8" y2="470.2" stroke="#222" stroke-width="0.9" stroke-dasharray="2 1.6"/>
<line x1="304.7" y1="476.5" x2="292.4" y2="480.7" stroke="#111" stroke-width="0.9"/>
<path d="M292.49 480.81 L293.24 495.09 L281.25 502.88 L268.51 496.39 L267.76 482.11 L279.75 474.32 Z" fill="none" stroke="#111" stroke-width="0.9" stroke-linejoin="round"/>
<line x1="289.3" y1="494.4" x2="282.2" y2="499.0" stroke="#111" stroke-width="0.9"/>
<line x1="271.1" y1="493.3" x2="270.6" y2="484.9" stroke="#111" stroke-width="0.9"/>
<line x1="281.1" y1="478.1" x2="288.7" y2="481.9" stroke="#111" stroke-width="0.9"/>
<line x1="292.5" y1="496.4" x2="301.9" y2="500.6" stroke="#111" stroke-width="0.9"/>
<text x="301.9" y="505.3" font-size="10.5" fill="#111" stroke="#111" stroke-width="0.22" text-anchor="start" >Me</text>
<line x1="316.1" y1="480.7" x2="321.8" y2="487.3" stroke="#111" stroke-width="0.9"/>
<text x="319.9" y="495.8" font-size="11" fill="#a4161a" stroke="#a4161a" stroke-width="0.22" font-weight="bold">L<tspan font-size="8.5" dy="2.8">11</tspan></text>
<text x="298.5" y="532.7" font-size="10.5" fill="#7a7a7a" stroke="#7a7a7a" stroke-width="0.22" text-anchor="middle" >ts-1a</text>
<path d="M417.70 476.30 L431.56 484.30 L431.56 500.30 L417.70 508.30 L403.84 500.30 L403.84 484.30 Z" fill="none" stroke="#111" stroke-width="0.9" stroke-linejoin="round"/>
<line x1="428.5" y1="487.6" x2="428.5" y2="497.0" stroke="#111" stroke-width="0.9"/>
<line x1="416.4" y1="504.0" x2="408.2" y2="499.3" stroke="#111" stroke-width="0.9"/>
<line x1="408.2" y1="485.3" x2="416.4" y2="480.6" stroke="#111" stroke-width="0.9"/>
<line x1="431.5" y1="484.0" x2="441.4" y2="479.0" stroke="#111" stroke-width="0.9"/>
<line x1="444.8" y1="473.1" x2="444.8" y2="480.7" stroke="#111" stroke-width="1.0"/>
<line x1="431.5" y1="500.6" x2="439.0" y2="504.7" stroke="#111" stroke-width="0.9"/>
<text x="440.8" y="511.1" font-size="10.5" fill="#111" stroke="#111" stroke-width="0.22" text-anchor="start" >Me</text>
<text x="148.5" y="533.6" font-size="10.5" fill="#4f9a8f" stroke="#4f9a8f" stroke-width="0.22" text-anchor="middle" >int1</text>
<path d="M61.80 634.90 L53.90 648.58 L38.10 648.58 L30.20 634.90 L38.10 621.22 L53.90 621.22 Z" fill="none" stroke="#111" stroke-width="0.9" stroke-linejoin="round"/>
<line x1="57.6" y1="636.2" x2="52.9" y2="644.3" stroke="#111" stroke-width="0.9"/>
<line x1="39.1" y1="644.3" x2="34.4" y2="636.2" stroke="#111" stroke-width="0.9"/>
<line x1="41.3" y1="624.2" x2="50.7" y2="624.2" stroke="#111" stroke-width="0.9"/>
<line x1="54.3" y1="621.2" x2="58.2" y2="613.2" stroke="#111" stroke-width="0.9"/>
<text x="57.2" y="610.8" font-size="10.5" fill="#111" stroke="#111" stroke-width="0.22" text-anchor="start" >Me</text>
<line x1="61.8" y1="634.9" x2="77.7" y2="634.9" stroke="#111" stroke-width="0.9"/>
<text x="78.7" y="638.5" font-size="10.5" fill="#111" stroke="#111" stroke-width="0.22" text-anchor="start" >Pd</text>
<line x1="85.7" y1="605.7" x2="85.7" y2="613.2" stroke="#111" stroke-width="1.0"/>
<line x1="85.7" y1="614.8" x2="85.7" y2="629.3" stroke="#111" stroke-width="0.9"/>
<line x1="85.7" y1="641.4" x2="85.7" y2="650.2" stroke="#111" stroke-width="0.9"/>
<text x="82.5" y="660.4" font-size="11" fill="#a4161a" stroke="#a4161a" stroke-width="0.22" font-weight="bold">L<tspan font-size="8.5" dy="2.8">11</tspan></text>
<text x="58.0" y="679.4" font-size="10.5" fill="#4f9a8f" stroke="#4f9a8f" stroke-width="0.22" text-anchor="middle" >int2</text>
<path d="M130.8 570.9 H125.3 V662.4 H130.8" fill="none" stroke="#222" stroke-width="0.9"/>
<path d="M248.9 570.9 H254.4 V662.4 H248.9" fill="none" stroke="#222" stroke-width="0.9"/>
<text x="256.9" y="576.9" font-size="8" fill="#222" stroke="#222" stroke-width="0.22" text-anchor="start" >‡</text>
<text x="179.7" y="576.3" font-size="10.5" fill="#111" stroke="#111" stroke-width="0.22" text-anchor="start" >OMe</text>
<path d="M179.5 577.9 L171.0 583.9 L177.9 594.3" fill="none" stroke="#111" stroke-width="0.9"/>
<text x="151.9" y="597.1" font-size="10.5" fill="#111" stroke="#111" stroke-width="0.22" text-anchor="end" >MeO</text>
<line x1="152.3" y1="593.0" x2="162.7" y2="590.9" stroke="#111" stroke-width="0.9"/>
<line x1="162.7" y1="590.9" x2="177.9" y2="594.3" stroke="#111" stroke-width="0.9"/>
<line x1="177.9" y1="594.3" x2="188.7" y2="591.1" stroke="#111" stroke-width="0.9"/>
<text x="193.4" y="593.7" font-size="10.5" fill="#111" stroke="#111" stroke-width="0.22" text-anchor="middle" >O</text>
<line x1="196.3" y1="594.1" x2="201.5" y2="603.1" stroke="#111" stroke-width="0.9"/>
<path d="M201.56 602.81 L187.22 598.43 L186.58 601.37 L201.44 603.39 Z" fill="#111"/>
<path d="M186.54 598.44 L169.94 602.54 L170.66 605.46 L187.26 601.36 Z" fill="#111"/>
<path d="M171.60 603.25 L162.96 590.75 L162.44 591.05 L169.00 604.75 Z" fill="#111"/>
<text x="157.3" y="607.7" font-size="10.5" fill="#111" stroke="#111" stroke-width="0.22" text-anchor="end" >MeO</text>
<line x1="157.5" y1="603.7" x2="170.3" y2="603.7" stroke="#111" stroke-width="0.9"/>
<line x1="186.9" y1="599.9" x2="184.6" y2="614.7" stroke="#111" stroke-width="0.9"/>
<text x="187.7" y="623.2" font-size="10.5" fill="#111" stroke="#111" stroke-width="0.22" text-anchor="end" >MeO</text>
<line x1="201.5" y1="603.1" x2="216.3" y2="596.5" stroke="#222" stroke-width="0.9" stroke-dasharray="2 1.6"/>
<text x="217.8" y="594.6" font-size="10.5" fill="#111" stroke="#111" stroke-width="0.22" text-anchor="start" >SnMe<tspan font-size="7.5" dy="2.5">3</tspan></text>
<line x1="222.0" y1="599.9" x2="223.7" y2="607.4" stroke="#222" stroke-width="0.9" stroke-dasharray="2 1.6"/>
<text x="220.6" y="614.7" font-size="10.5" fill="#111" stroke="#111" stroke-width="0.22" text-anchor="start" >F</text>
<line x1="228.0" y1="612.6" x2="241.7" y2="617.9" stroke="#222" stroke-width="0.9" stroke-dasharray="2 1.6"/>
<text x="242.4" y="620.5" font-size="10.5" fill="#111" stroke="#111" stroke-width="0.22" text-anchor="start" >K</text>
<line x1="201.5" y1="603.6" x2="201.5" y2="624.3" stroke="#222" stroke-width="0.9" stroke-dasharray="2 1.6"/>
<text x="198.5" y="632.3" font-size="10.5" fill="#111" stroke="#111" stroke-width="0.22" text-anchor="start" >Pd</text>
<line x1="213.1" y1="630.0" x2="220.7" y2="631.9" stroke="#222" stroke-width="0.9" stroke-dasharray="2 1.6"/>
<line x1="224.8" y1="629.8" x2="224.8" y2="636.4" stroke="#111" stroke-width="1.0"/>
<line x1="226.8" y1="630.6" x2="242.8" y2="621.7" stroke="#222" stroke-width="0.9" stroke-dasharray="2 1.6"/>
<line x1="196.7" y1="631.7" x2="185.0" y2="637.5" stroke="#111" stroke-width="0.9"/>
<path d="M184.11 637.84 L182.28 652.73 L168.47 658.59 L156.49 649.56 L158.32 634.67 L172.13 628.81 Z" fill="none" stroke="#111" stroke-width="0.9" stroke-linejoin="round"/>
<line x1="178.4" y1="651.3" x2="170.2" y2="654.8" stroke="#111" stroke-width="0.9"/>
<line x1="159.7" y1="646.9" x2="160.8" y2="638.1" stroke="#111" stroke-width="0.9"/>
<line x1="172.8" y1="632.9" x2="179.9" y2="638.3" stroke="#111" stroke-width="0.9"/>
<line x1="182.3" y1="652.7" x2="192.0" y2="656.2" stroke="#111" stroke-width="0.9"/>
<text x="193.8" y="662.0" font-size="10.5" fill="#111" stroke="#111" stroke-width="0.22" text-anchor="start" >Me</text>
<line x1="203.1" y1="634.5" x2="206.0" y2="642.8" stroke="#111" stroke-width="0.9"/>
<text x="204.9" y="652.1" font-size="11" fill="#a4161a" stroke="#a4161a" stroke-width="0.22" font-weight="bold">L<tspan font-size="8.5" dy="2.8">11</tspan></text>
<text x="186.4" y="678.3" font-size="10.5" fill="#4f9a8f" stroke="#4f9a8f" stroke-width="0.22" text-anchor="middle" >ts-1</text>
<text x="326.0" y="597.4" font-size="10.5" fill="#111" stroke="#111" stroke-width="0.22" text-anchor="start" >OMe</text>
<path d="M325.8 599.0 L317.3 605.0 L324.2 615.4" fill="none" stroke="#111" stroke-width="0.9"/>
<text x="298.2" y="618.2" font-size="10.5" fill="#111" stroke="#111" stroke-width="0.22" text-anchor="end" >MeO</text>
<line x1="298.6" y1="614.1" x2="309.0" y2="612.0" stroke="#111" stroke-width="0.9"/>
<line x1="309.0" y1="612.0" x2="324.2" y2="615.4" stroke="#111" stroke-width="0.9"/>
<line x1="324.2" y1="615.4" x2="335.0" y2="612.2" stroke="#111" stroke-width="0.9"/>
<text x="339.7" y="614.8" font-size="10.5" fill="#111" stroke="#111" stroke-width="0.22" text-anchor="middle" >O</text>
<line x1="342.6" y1="615.2" x2="347.8" y2="624.2" stroke="#111" stroke-width="0.9"/>
<path d="M347.86 623.91 L333.52 619.53 L332.88 622.47 L347.74 624.49 Z" fill="#111"/>
<path d="M332.84 619.54 L316.24 623.64 L316.96 626.56 L333.56 622.46 Z" fill="#111"/>
<path d="M317.90 624.35 L309.26 611.85 L308.74 612.15 L315.30 625.85 Z" fill="#111"/>
<text x="303.6" y="628.8" font-size="10.5" fill="#111" stroke="#111" stroke-width="0.22" text-anchor="end" >MeO</text>
<line x1="303.8" y1="624.8" x2="316.6" y2="624.8" stroke="#111" stroke-width="0.9"/>
<line x1="333.2" y1="621.0" x2="330.4" y2="635.4" stroke="#111" stroke-width="0.9"/>
<text x="333.5" y="643.6" font-size="10.5" fill="#111" stroke="#111" stroke-width="0.22" text-anchor="end" >MeO</text>
<line x1="347.8" y1="624.2" x2="354.9" y2="630.3" stroke="#111" stroke-width="0.9"/>
<text x="354.9" y="638.5" font-size="10.5" fill="#111" stroke="#111" stroke-width="0.22" text-anchor="start" >Pd</text>
<line x1="368.2" y1="630.3" x2="377.4" y2="624.2" stroke="#111" stroke-width="0.9"/>
<path d="M377.34 624.00 L377.34 608.00 L391.20 600.00 L405.06 608.00 L405.06 624.00 L391.20 632.00 Z" fill="none" stroke="#111" stroke-width="0.9" stroke-linejoin="round"/>
<line x1="381.7" y1="609.0" x2="389.9" y2="604.3" stroke="#111" stroke-width="0.9"/>
<line x1="402.0" y1="611.3" x2="402.0" y2="620.7" stroke="#111" stroke-width="0.9"/>
<line x1="389.9" y1="627.7" x2="381.7" y2="623.0" stroke="#111" stroke-width="0.9"/>
<line x1="391.2" y1="632.0" x2="391.2" y2="642.6" stroke="#111" stroke-width="0.9"/>
<text x="387.2" y="649.7" font-size="10.5" fill="#111" stroke="#111" stroke-width="0.22" text-anchor="start" >Me</text>
<line x1="361.0" y1="642.6" x2="361.0" y2="650.7" stroke="#111" stroke-width="0.9"/>
<text x="359.0" y="661.0" font-size="11" fill="#a4161a" stroke="#a4161a" stroke-width="0.22" font-weight="bold">L<tspan font-size="8.5" dy="2.8">11</tspan></text>
<text x="335.0" y="678.3" font-size="10.5" fill="#a886ee" stroke="#a886ee" stroke-width="0.22" text-anchor="middle" >int3</text>
<path d="M426.5 584.9 H421.0 V659.8 H426.5" fill="none" stroke="#222" stroke-width="0.9"/>
<path d="M554.5 584.9 H560.0 V659.8 H554.5" fill="none" stroke="#222" stroke-width="0.9"/>
<text x="562.5" y="590.9" font-size="8" fill="#222" stroke="#222" stroke-width="0.22" text-anchor="start" >‡</text>
<text x="476.9" y="592.5" font-size="10.5" fill="#111" stroke="#111" stroke-width="0.22" text-anchor="start" >OMe</text>
<path d="M476.7 594.1 L468.2 600.1 L475.1 610.5" fill="none" stroke="#111" stroke-width="0.9"/>
<text x="449.1" y="613.3" font-size="10.5" fill="#111" stroke="#111" stroke-width="0.22" text-anchor="end" >MeO</text>
<line x1="449.5" y1="609.2" x2="459.9" y2="607.1" stroke="#111" stroke-width="0.9"/>
<line x1="459.9" y1="607.1" x2="475.1" y2="610.5" stroke="#111" stroke-width="0.9"/>
<line x1="475.1" y1="610.5" x2="485.9" y2="607.3" stroke="#111" stroke-width="0.9"/>
<text x="490.6" y="609.9" font-size="10.5" fill="#111" stroke="#111" stroke-width="0.22" text-anchor="middle" >O</text>
<line x1="493.5" y1="610.3" x2="498.7" y2="619.3" stroke="#111" stroke-width="0.9"/>
<path d="M498.76 619.01 L484.42 614.63 L483.78 617.57 L498.64 619.59 Z" fill="#111"/>
<path d="M483.74 614.64 L467.14 618.74 L467.86 621.66 L484.46 617.56 Z" fill="#111"/>
<path d="M468.80 619.45 L460.16 606.95 L459.64 607.25 L466.20 620.95 Z" fill="#111"/>
<text x="454.5" y="623.9" font-size="10.5" fill="#111" stroke="#111" stroke-width="0.22" text-anchor="end" >MeO</text>
<line x1="454.7" y1="619.9" x2="467.5" y2="619.9" stroke="#111" stroke-width="0.9"/>
<line x1="484.1" y1="616.1" x2="480.1" y2="630.2" stroke="#111" stroke-width="0.9"/>
<text x="484.4" y="639.0" font-size="10.5" fill="#111" stroke="#111" stroke-width="0.22" text-anchor="end" >MeO</text>
<line x1="498.7" y1="619.3" x2="528.2" y2="619.3" stroke="#222" stroke-width="0.9" stroke-dasharray="2 1.6"/>
<line x1="498.7" y1="619.3" x2="509.6" y2="632.4" stroke="#222" stroke-width="0.9" stroke-dasharray="2 1.6"/>
<line x1="528.2" y1="619.3" x2="519.5" y2="632.4" stroke="#222" stroke-width="0.9" stroke-dasharray="2 1.6"/>
<text x="506.3" y="640.1" font-size="10.5" fill="#111" stroke="#111" stroke-width="0.22" text-anchor="start" >Pd</text>
<path d="M528.04 618.50 L528.04 602.50 L541.90 594.50 L555.76 602.50 L555.76 618.50 L541.90 626.50 Z" fill="none" stroke="#111" stroke-width="0.9" stroke-linejoin="round"/>
<line x1="532.4" y1="603.5" x2="540.6" y2="598.8" stroke="#111" stroke-width="0.9"/>
<line x1="552.7" y1="605.8" x2="552.7" y2="615.2" stroke="#111" stroke-width="0.9"/>
<line x1="540.6" y1="622.2" x2="532.4" y2="617.5" stroke="#111" stroke-width="0.9"/>
<line x1="541.9" y1="626.5" x2="541.9" y2="635.7" stroke="#111" stroke-width="0.9"/>
<text x="537.7" y="645.5" font-size="10.5" fill="#111" stroke="#111" stroke-width="0.22" text-anchor="start" >Me</text>
<line x1="512.9" y1="643.4" x2="512.9" y2="652.1" stroke="#111" stroke-width="0.9"/>
<text x="509.6" y="660.9" font-size="11" fill="#a4161a" stroke="#a4161a" stroke-width="0.22" font-weight="bold">L<tspan font-size="8.5" dy="2.8">11</tspan></text>
<text x="490.3" y="679.5" font-size="10.5" fill="#a886ee" stroke="#a886ee" stroke-width="0.22" text-anchor="middle" >ts-2</text>
<path d="M620.00 624.30 L634.20 632.50 L634.20 648.90 L620.00 657.10 L605.80 648.90 L605.80 632.50 Z" fill="none" stroke="#111" stroke-width="0.9" stroke-linejoin="round"/>
<line x1="621.3" y1="628.7" x2="629.7" y2="633.5" stroke="#111" stroke-width="0.9"/>
<line x1="629.7" y1="647.9" x2="621.3" y2="652.7" stroke="#111" stroke-width="0.9"/>
<line x1="608.9" y1="645.6" x2="608.9" y2="635.8" stroke="#111" stroke-width="0.9"/>
<line x1="606.5" y1="632.5" x2="597.7" y2="627.7" stroke="#111" stroke-width="0.9"/>
<text x="581.0" y="628.7" font-size="10.5" fill="#111" stroke="#111" stroke-width="0.22" text-anchor="start" >Me</text>
<line x1="606.5" y1="649.0" x2="597.7" y2="654.2" stroke="#111" stroke-width="0.9"/>
<line x1="593.6" y1="652.8" x2="593.6" y2="660.1" stroke="#111" stroke-width="1.0"/>
<line x1="630.6" y1="633.8" x2="645.0" y2="633.8" stroke="#111" stroke-width="0.9"/>
<path d="M643.5 631.6 L649 633.8 L643.5 636 Z" fill="#111"/>
<text x="651.0" y="638.2" font-size="10.5" fill="#111" stroke="#111" stroke-width="0.22" text-anchor="start" >Pd</text>
<line x1="655.4" y1="641.8" x2="655.4" y2="649.9" stroke="#111" stroke-width="0.9"/>
<text x="651.8" y="660.1" font-size="11" fill="#a4161a" stroke="#a4161a" stroke-width="0.22" font-weight="bold">L<tspan font-size="8.5" dy="2.8">11</tspan></text>
<text x="616.7" y="679.0" font-size="10.5" fill="#e8873a" stroke="#e8873a" stroke-width="0.22" text-anchor="middle" >int4</text>
<path d="M20.9 704.9 H15.4 V782.4 H20.9" fill="none" stroke="#222" stroke-width="0.9"/>
<path d="M157.1 704.9 H162.6 V782.4 H157.1" fill="none" stroke="#222" stroke-width="0.9"/>
<text x="165.1" y="710.9" font-size="8" fill="#222" stroke="#222" stroke-width="0.22" text-anchor="start" >‡</text>
<text x="73.8" y="716.6" font-size="10.5" fill="#111" stroke="#111" stroke-width="0.22" text-anchor="start" >OMe</text>
<path d="M73.6 718.2 L65.1 724.2 L72.0 734.6" fill="none" stroke="#111" stroke-width="0.9"/>
<text x="46.0" y="737.4" font-size="10.5" fill="#111" stroke="#111" stroke-width="0.22" text-anchor="end" >MeO</text>
<line x1="46.4" y1="733.3" x2="56.8" y2="731.2" stroke="#111" stroke-width="0.9"/>
<line x1="56.8" y1="731.2" x2="72.0" y2="734.6" stroke="#111" stroke-width="0.9"/>
<line x1="72.0" y1="734.6" x2="82.8" y2="731.4" stroke="#111" stroke-width="0.9"/>
<text x="87.5" y="734.0" font-size="10.5" fill="#111" stroke="#111" stroke-width="0.22" text-anchor="middle" >O</text>
<line x1="90.4" y1="734.4" x2="95.6" y2="743.4" stroke="#111" stroke-width="0.9"/>
<path d="M95.66 743.11 L81.32 738.73 L80.68 741.67 L95.54 743.69 Z" fill="#111"/>
<path d="M80.64 738.74 L64.04 742.84 L64.76 745.76 L81.36 741.66 Z" fill="#111"/>
<path d="M65.70 743.55 L57.06 731.05 L56.54 731.35 L63.10 745.05 Z" fill="#111"/>
<text x="51.4" y="748.0" font-size="10.5" fill="#111" stroke="#111" stroke-width="0.22" text-anchor="end" >MeO</text>
<line x1="51.6" y1="744.0" x2="64.4" y2="744.0" stroke="#111" stroke-width="0.9"/>
<line x1="78.5" y1="741.3" x2="72.0" y2="753.3" stroke="#222" stroke-width="0.9" stroke-dasharray="2 1.6"/>
<text x="75.2" y="760.0" font-size="10.5" fill="#111" stroke="#111" stroke-width="0.22" text-anchor="end" >MeO</text>
<line x1="81.0" y1="743.3" x2="94.0" y2="746.3" stroke="#222" stroke-width="0.9" stroke-dasharray="2 1.6"/>
<line x1="70.0" y1="761.8" x2="65.8" y2="774.4" stroke="#222" stroke-width="0.9" stroke-dasharray="2 1.6"/>
<text x="45.2" y="780.6" font-size="10.5" fill="#111" stroke="#111" stroke-width="0.22" text-anchor="start" >ClCu</text>
<line x1="95.6" y1="743.4" x2="109.2" y2="754.6" stroke="#222" stroke-width="0.9" stroke-dasharray="2 1.6"/>
<text x="108.7" y="762.5" font-size="10.5" fill="#111" stroke="#111" stroke-width="0.22" text-anchor="start" >Pd</text>
<line x1="121.7" y1="754.6" x2="131.6" y2="747.1" stroke="#111" stroke-width="0.9"/>
<path d="M131.21 746.00 L131.21 731.00 L144.20 723.50 L157.19 731.00 L157.19 746.00 L144.20 753.50 Z" fill="none" stroke="#111" stroke-width="0.9" stroke-linejoin="round"/>
<line x1="135.3" y1="731.9" x2="143.0" y2="727.5" stroke="#111" stroke-width="0.9"/>
<line x1="154.3" y1="734.1" x2="154.3" y2="742.9" stroke="#111" stroke-width="0.9"/>
<line x1="143.0" y1="749.5" x2="135.3" y2="745.1" stroke="#111" stroke-width="0.9"/>
<line x1="144.2" y1="753.5" x2="144.2" y2="763.3" stroke="#111" stroke-width="0.9"/>
<text x="139.0" y="773.2" font-size="10.5" fill="#111" stroke="#111" stroke-width="0.22" text-anchor="start" >Me</text>
<text x="95.6" y="778.2" font-size="10.5" fill="#111" stroke="#111" stroke-width="0.22" text-anchor="start" >F</text>
<line x1="101.8" y1="769.5" x2="109.2" y2="765.0" stroke="#111" stroke-width="0.9"/>
<line x1="114.2" y1="765.0" x2="114.2" y2="772.0" stroke="#111" stroke-width="0.9"/>
<text x="111.7" y="783.1" font-size="11" fill="#1f4f9a" stroke="#1f4f9a" stroke-width="0.22" font-weight="bold">L<tspan font-size="8.5" dy="2.8">1</tspan></text>
<text x="86.3" y="793.0" font-size="10.5" fill="#7a7a7a" stroke="#7a7a7a" stroke-width="0.22" text-anchor="middle" >ts-2a'</text>
<line x1="251.9" y1="745.4" x2="178.0" y2="745.4" stroke="#111" stroke-width="0.9"/>
<path d="M179.5 743.2 L174.2 745.4 L179.5 747.6 Z" fill="#111"/>
<text x="196.0" y="736.0" font-size="10.5" fill="#111" stroke="#111" stroke-width="0.22" text-anchor="start" >CuClF<tspan font-size="7" dy="-4">-</tspan></text>
<text x="315.1" y="719.1" font-size="10.5" fill="#111" stroke="#111" stroke-width="0.22" text-anchor="start" >OMe</text>
<path d="M314.9 720.7 L306.4 726.7 L313.3 737.1" fill="none" stroke="#111" stroke-width="0.9"/>
<text x="287.3" y="739.9" font-size="10.5" fill="#111" stroke="#111" stroke-width="0.22" text-anchor="end" >MeO</text>
<line x1="287.7" y1="735.8" x2="298.1" y2="733.7" stroke="#111" stroke-width="0.9"/>
<line x1="298.1" y1="733.7" x2="313.3" y2="737.1" stroke="#111" stroke-width="0.9"/>
<line x1="313.3" y1="737.1" x2="324.1" y2="733.9" stroke="#111" stroke-width="0.9"/>
<text x="328.8" y="736.5" font-size="10.5" fill="#111" stroke="#111" stroke-width="0.22" text-anchor="middle" >O</text>
<line x1="331.7" y1="736.9" x2="336.9" y2="745.9" stroke="#111" stroke-width="0.9"/>
<path d="M336.96 745.61 L322.62 741.23 L321.98 744.17 L336.84 746.19 Z" fill="#111"/>
<path d="M321.94 741.24 L305.34 745.34 L306.06 748.26 L322.66 744.16 Z" fill="#111"/>
<path d="M307.00 746.05 L298.36 733.55 L297.84 733.85 L304.40 747.55 Z" fill="#111"/>
<text x="292.7" y="750.5" font-size="10.5" fill="#111" stroke="#111" stroke-width="0.22" text-anchor="end" >MeO</text>
<line x1="292.9" y1="746.5" x2="305.7" y2="746.5" stroke="#111" stroke-width="0.9"/>
<line x1="322.3" y1="742.7" x2="319.0" y2="757.0" stroke="#111" stroke-width="0.9"/>
<text x="322.0" y="764.5" font-size="10.5" fill="#111" stroke="#111" stroke-width="0.22" text-anchor="end" >MeO</text>
<line x1="336.9" y1="745.9" x2="343.1" y2="750.8" stroke="#111" stroke-width="0.9"/>
<text x="343.1" y="759.0" font-size="10.5" fill="#111" stroke="#111" stroke-width="0.22" text-anchor="start" >Pd</text>
<line x1="356.8" y1="750.8" x2="364.2" y2="744.6" stroke="#111" stroke-width="0.9"/>
<path d="M364.64 743.80 L364.64 727.80 L378.50 719.80 L392.36 727.80 L392.36 743.80 L378.50 751.80 Z" fill="none" stroke="#111" stroke-width="0.9" stroke-linejoin="round"/>
<line x1="369.0" y1="728.8" x2="377.2" y2="724.1" stroke="#111" stroke-width="0.9"/>
<line x1="389.3" y1="731.1" x2="389.3" y2="740.5" stroke="#111" stroke-width="0.9"/>
<line x1="377.2" y1="747.5" x2="369.0" y2="742.8" stroke="#111" stroke-width="0.9"/>
<line x1="378.5" y1="751.8" x2="378.5" y2="760.8" stroke="#111" stroke-width="0.9"/>
<text x="374.9" y="770.7" font-size="10.5" fill="#111" stroke="#111" stroke-width="0.22" text-anchor="start" >Me</text>
<line x1="350.1" y1="762.0" x2="350.1" y2="769.5" stroke="#111" stroke-width="0.9"/>
<text x="347.3" y="779.4" font-size="11" fill="#1f4f9a" stroke="#1f4f9a" stroke-width="0.22" font-weight="bold">L<tspan font-size="8.5" dy="2.8">1</tspan></text>
<text x="330.7" y="792.3" font-size="10.5" fill="#a886ee" stroke="#a886ee" stroke-width="0.22" text-anchor="middle" >int3'</text>
<line x1="401.4" y1="747.9" x2="485.0" y2="747.9" stroke="#111" stroke-width="0.9"/>
<path d="M483.5 745.7 L488.8 747.9 L483.5 750.1 Z" fill="#111"/>
<path d="M510.6 703.2 H505.1 V777.2 H510.6" fill="none" stroke="#222" stroke-width="0.9"/>
<path d="M638.2 703.2 H643.7 V777.2 H638.2" fill="none" stroke="#222" stroke-width="0.9"/>
<text x="646.2" y="709.2" font-size="8" fill="#222" stroke="#222" stroke-width="0.22" text-anchor="start" >‡</text>
<text x="558.8" y="709.8" font-size="10.5" fill="#111" stroke="#111" stroke-width="0.22" text-anchor="start" >OMe</text>
<path d="M558.6 711.4 L550.1 717.4 L557.0 727.8" fill="none" stroke="#111" stroke-width="0.9"/>
<text x="531.0" y="730.6" font-size="10.5" fill="#111" stroke="#111" stroke-width="0.22" text-anchor="end" >MeO</text>
<line x1="531.4" y1="726.5" x2="541.8" y2="724.4" stroke="#111" stroke-width="0.9"/>
<line x1="541.8" y1="724.4" x2="557.0" y2="727.8" stroke="#111" stroke-width="0.9"/>
<line x1="557.0" y1="727.8" x2="567.8" y2="724.6" stroke="#111" stroke-width="0.9"/>
<text x="572.5" y="727.2" font-size="10.5" fill="#111" stroke="#111" stroke-width="0.22" text-anchor="middle" >O</text>
<line x1="575.4" y1="727.6" x2="580.6" y2="736.6" stroke="#111" stroke-width="0.9"/>
<path d="M580.66 736.31 L566.32 731.93 L565.68 734.87 L580.54 736.89 Z" fill="#111"/>
<path d="M565.64 731.94 L549.04 736.04 L549.76 738.96 L566.36 734.86 Z" fill="#111"/>
<path d="M550.70 736.75 L542.06 724.25 L541.54 724.55 L548.10 738.25 Z" fill="#111"/>
<text x="536.4" y="741.2" font-size="10.5" fill="#111" stroke="#111" stroke-width="0.22" text-anchor="end" >MeO</text>
<line x1="536.6" y1="737.2" x2="549.4" y2="737.2" stroke="#111" stroke-width="0.9"/>
<line x1="566.0" y1="733.4" x2="565.4" y2="747.6" stroke="#111" stroke-width="0.9"/>
<text x="567.7" y="756.9" font-size="10.5" fill="#111" stroke="#111" stroke-width="0.22" text-anchor="end" >MeO</text>
<line x1="580.6" y1="736.6" x2="609.8" y2="736.6" stroke="#222" stroke-width="0.9" stroke-dasharray="2 1.6"/>
<line x1="581.5" y1="737.5" x2="592.3" y2="749.9" stroke="#222" stroke-width="0.9" stroke-dasharray="2 1.6"/>
<line x1="609.8" y1="737.0" x2="600.4" y2="749.9" stroke="#222" stroke-width="0.9" stroke-dasharray="2 1.6"/>
<text x="589.9" y="758.1" font-size="10.5" fill="#111" stroke="#111" stroke-width="0.22" text-anchor="start" >Pd</text>
<path d="M609.94 736.60 L609.94 720.60 L623.80 712.60 L637.66 720.60 L637.66 736.60 L623.80 744.60 Z" fill="none" stroke="#111" stroke-width="0.9" stroke-linejoin="round"/>
<line x1="614.3" y1="721.6" x2="622.5" y2="716.9" stroke="#111" stroke-width="0.9"/>
<line x1="634.6" y1="723.9" x2="634.6" y2="733.3" stroke="#111" stroke-width="0.9"/>
<line x1="622.5" y1="740.3" x2="614.3" y2="735.6" stroke="#111" stroke-width="0.9"/>
<line x1="623.8" y1="744.6" x2="623.8" y2="752.2" stroke="#111" stroke-width="0.9"/>
<text x="620.3" y="762.7" font-size="10.5" fill="#111" stroke="#111" stroke-width="0.22" text-anchor="start" >Me</text>
<line x1="595.8" y1="760.4" x2="595.8" y2="769.7" stroke="#111" stroke-width="0.9"/>
<text x="593.4" y="779.1" font-size="11" fill="#1f4f9a" stroke="#1f4f9a" stroke-width="0.22" font-weight="bold">L<tspan font-size="8.5" dy="2.8">1</tspan></text>
<text x="586.5" y="793.1" font-size="10.5" fill="#a886ee" stroke="#a886ee" stroke-width="0.22" text-anchor="middle" >ts-2'</text>
<text x="44.3" y="814.1" font-size="11" fill="#111" stroke="#111" stroke-width="0.22" text-anchor="start" >ΔG<tspan font-size="8" dy="-4">‡</tspan><tspan dy="4"> = 7.8 kcal/mol</tspan></text>
<text x="538.9" y="812.6" font-size="11" fill="#111" stroke="#111" stroke-width="0.22" text-anchor="start" >ΔG<tspan font-size="8" dy="-4">‡</tspan><tspan dy="4"> = 9.8 kcal/mol</tspan></text>
<defs>
<radialGradient id="gC" cx="0.38" cy="0.35" r="0.7"><stop offset="0" stop-color="#ffffff" stop-opacity="0.85"/><stop offset="0.45" stop-color="#d4d4d4"/><stop offset="1" stop-color="#d4d4d4"/></radialGradient>
<radialGradient id="gO" cx="0.38" cy="0.35" r="0.7"><stop offset="0" stop-color="#ffffff" stop-opacity="0.85"/><stop offset="0.45" stop-color="#e8343a"/><stop offset="1" stop-color="#e8343a"/></radialGradient>
<radialGradient id="gF" cx="0.38" cy="0.35" r="0.7"><stop offset="0" stop-color="#ffffff" stop-opacity="0.85"/><stop offset="0.45" stop-color="#c9f1f3"/><stop offset="1" stop-color="#c9f1f3"/></radialGradient>
<radialGradient id="gPd" cx="0.38" cy="0.35" r="0.7"><stop offset="0" stop-color="#ffffff" stop-opacity="0.85"/><stop offset="0.45" stop-color="#1e6e86"/><stop offset="1" stop-color="#1e6e86"/></radialGradient>
<radialGradient id="gP" cx="0.38" cy="0.35" r="0.7"><stop offset="0" stop-color="#ffffff" stop-opacity="0.85"/><stop offset="0.45" stop-color="#e8891c"/><stop offset="1" stop-color="#e8891c"/></radialGradient>
<radialGradient id="gCu" cx="0.38" cy="0.35" r="0.7"><stop offset="0" stop-color="#ffffff" stop-opacity="0.85"/><stop offset="0.45" stop-color="#b5762c"/><stop offset="1" stop-color="#b5762c"/></radialGradient>
<radialGradient id="gCl" cx="0.38" cy="0.35" r="0.7"><stop offset="0" stop-color="#ffffff" stop-opacity="0.85"/><stop offset="0.45" stop-color="#54d23a"/><stop offset="1" stop-color="#54d23a"/></radialGradient>
<radialGradient id="gH" cx="0.38" cy="0.35" r="0.7"><stop offset="0" stop-color="#ffffff" stop-opacity="0.85"/><stop offset="0.45" stop-color="#f0f0f0"/><stop offset="1" stop-color="#f0f0f0"/></radialGradient>
</defs>
<path d="M56.7 832.9L55.5 845.7M55.5 845.7L60.2 852.7M60.2 852.7L50.9 862.1M50.9 862.1L39.2 857.4M39.2 857.4L30.9 867.6M30.9 867.6L23.9 864.9M60.2 852.7L72.1 857.9M72.1 857.9L80.3 848.7M80.3 848.7L84.2 847.2M50.9 862.1L55.8 869.3M55.8 869.3L66.7 875.8M66.7 875.8L76.8 867.0M76.8 867.0L72.1 857.9M64.6 865.3L76.8 867.0M76.8 867.0L86.5 873.2M86.5 873.2L98.2 867.0M76.8 867.0L85.9 863.2M85.9 863.2L98.2 867.0M98.2 867.0L101.4 875.8M101.4 875.8L92.6 881.4M92.6 881.4L80.7 879.0M80.7 879.0L76.8 867.0M67.7 888.4L80.7 879.0M42.1 873.7L44.4 885.4M44.4 885.4L36.2 886.3M44.4 885.4L55.8 884.2M44.4 885.4L43.2 894.7M43.2 894.7L33.9 901.9M33.9 901.9L33.0 911.2M33.0 911.2L42.7 912.4M42.7 912.4L52.7 901.0M52.7 901.0L43.2 894.7M52.7 901.0L54.1 897.5M33.0 911.2L22.5 918.2M22.5 918.2L12.4 912.4M22.5 918.2L21.6 923.8M22.5 918.2L22.5 927.3M66.3 906.6L54.9 912.4M66.3 906.6L78.6 912.4M66.3 906.6L61.9 917.7M78.6 912.4L90.5 910.7M90.5 910.7L100.5 914.2M100.5 914.2L102.2 921.2M102.2 921.2L87.3 921.2M87.3 921.2L76.8 917.7M76.8 917.7L78.6 912.4M100.5 914.2L112.7 912.4M112.7 912.4L113.6 904.5M112.7 912.4L120.3 908.0M112.7 912.4L117.1 922.4M54.9 912.4L49.7 919.4M49.7 919.4L52.3 931.7M52.3 931.7L60.2 936.9M60.2 936.9L65.4 929.9M65.4 929.9L61.9 917.7M61.9 917.7L54.9 912.4M73.3 936.9L85.6 937.8M85.6 937.8L91.7 944.8M91.7 944.8L86.5 951.0M86.5 951.0L75.1 950.1M75.1 950.1L67.2 943.1M67.2 943.1L73.3 936.9M65.4 929.9L73.3 936.9M89.1 930.8L85.6 937.8M89.1 930.8L100.5 932.6M100.5 932.6L100.5 943.9M100.5 932.6L104.0 922.0M55.5 942.2L60.2 936.9M55.5 942.2L47.9 945.7M47.9 945.7L36.5 951.8M47.9 945.7L48.8 951.0M62.8 948.9L67.2 943.1M62.8 948.9L58.4 956.2" stroke="#111" stroke-width="1.5" fill="none" stroke-linecap="round"/>
<line x1="67.7" y1="888.4" x2="66.7" y2="875.8" stroke="#b5b870" stroke-width="1.1"/>
<line x1="67.7" y1="888.4" x2="66.3" y2="906.6" stroke="#b5b870" stroke-width="1.1"/>
<line x1="67.7" y1="888.4" x2="52.7" y2="901.0" stroke="#b5b870" stroke-width="1.1"/>
<circle cx="56.7" cy="832.9" r="2.7" fill="url(#gC)" stroke="#4a4a4a" stroke-width="0.6"/>
<circle cx="55.5" cy="845.7" r="2.6" fill="url(#gO)" stroke="#7a1a1a" stroke-width="0.6"/>
<circle cx="60.2" cy="852.7" r="2.7" fill="url(#gC)" stroke="#4a4a4a" stroke-width="0.6"/>
<circle cx="50.9" cy="862.1" r="2.7" fill="url(#gC)" stroke="#4a4a4a" stroke-width="0.6"/>
<circle cx="39.2" cy="857.4" r="2.7" fill="url(#gC)" stroke="#4a4a4a" stroke-width="0.6"/>
<circle cx="30.9" cy="867.6" r="2.6" fill="url(#gO)" stroke="#7a1a1a" stroke-width="0.6"/>
<circle cx="23.9" cy="864.9" r="1.2" fill="url(#gH)" stroke="#777" stroke-width="0.6"/>
<circle cx="72.1" cy="857.9" r="2.7" fill="url(#gC)" stroke="#4a4a4a" stroke-width="0.6"/>
<circle cx="80.3" cy="848.7" r="2.6" fill="url(#gO)" stroke="#7a1a1a" stroke-width="0.6"/>
<circle cx="84.2" cy="847.2" r="2.7" fill="url(#gC)" stroke="#4a4a4a" stroke-width="0.6"/>
<circle cx="55.8" cy="869.3" r="2.6" fill="url(#gO)" stroke="#7a1a1a" stroke-width="0.6"/>
<circle cx="66.7" cy="875.8" r="2.7" fill="url(#gC)" stroke="#4a4a4a" stroke-width="0.6"/>
<circle cx="76.8" cy="867.0" r="2.7" fill="url(#gC)" stroke="#4a4a4a" stroke-width="0.6"/>
<circle cx="64.6" cy="865.3" r="2.7" fill="url(#gC)" stroke="#4a4a4a" stroke-width="0.6"/>
<circle cx="86.5" cy="873.2" r="2.6" fill="url(#gO)" stroke="#7a1a1a" stroke-width="0.6"/>
<circle cx="98.2" cy="867.0" r="2.7" fill="url(#gC)" stroke="#4a4a4a" stroke-width="0.6"/>
<circle cx="85.9" cy="863.2" r="2.7" fill="url(#gC)" stroke="#4a4a4a" stroke-width="0.6"/>
<circle cx="101.4" cy="875.8" r="2.7" fill="url(#gC)" stroke="#4a4a4a" stroke-width="0.6"/>
<circle cx="92.6" cy="881.4" r="2.7" fill="url(#gC)" stroke="#4a4a4a" stroke-width="0.6"/>
<circle cx="80.7" cy="879.0" r="2.7" fill="url(#gC)" stroke="#4a4a4a" stroke-width="0.6"/>
<circle cx="67.7" cy="888.4" r="2.8" fill="url(#gPd)" stroke="#0e3444" stroke-width="0.6"/>
<circle cx="42.1" cy="873.7" r="2.5" fill="url(#gF)" stroke="#6aa0a4" stroke-width="0.6"/>
<circle cx="44.4" cy="885.4" r="2.7" fill="url(#gC)" stroke="#4a4a4a" stroke-width="0.6"/>
<circle cx="36.2" cy="886.3" r="2.5" fill="url(#gF)" stroke="#6aa0a4" stroke-width="0.6"/>
<circle cx="55.8" cy="884.2" r="2.5" fill="url(#gF)" stroke="#6aa0a4" stroke-width="0.6"/>
<circle cx="43.2" cy="894.7" r="2.7" fill="url(#gC)" stroke="#4a4a4a" stroke-width="0.6"/>
<circle cx="66.3" cy="906.6" r="2.8" fill="url(#gP)" stroke="#7a4408" stroke-width="0.6"/>
<circle cx="52.7" cy="901.0" r="2.6" fill="url(#gO)" stroke="#7a1a1a" stroke-width="0.6"/>
<circle cx="33.9" cy="901.9" r="2.7" fill="url(#gC)" stroke="#4a4a4a" stroke-width="0.6"/>
<circle cx="33.0" cy="911.2" r="2.7" fill="url(#gC)" stroke="#4a4a4a" stroke-width="0.6"/>
<circle cx="42.7" cy="912.4" r="2.7" fill="url(#gC)" stroke="#4a4a4a" stroke-width="0.6"/>
<circle cx="54.1" cy="897.5" r="2.7" fill="url(#gC)" stroke="#4a4a4a" stroke-width="0.6"/>
<circle cx="22.5" cy="918.2" r="2.7" fill="url(#gC)" stroke="#4a4a4a" stroke-width="0.6"/>
<circle cx="12.4" cy="912.4" r="2.5" fill="url(#gF)" stroke="#6aa0a4" stroke-width="0.6"/>
<circle cx="21.6" cy="923.8" r="2.5" fill="url(#gF)" stroke="#6aa0a4" stroke-width="0.6"/>
<circle cx="22.5" cy="927.3" r="2.5" fill="url(#gF)" stroke="#6aa0a4" stroke-width="0.6"/>
<circle cx="54.9" cy="912.4" r="2.7" fill="url(#gC)" stroke="#4a4a4a" stroke-width="0.6"/>
<circle cx="78.6" cy="912.4" r="2.7" fill="url(#gC)" stroke="#4a4a4a" stroke-width="0.6"/>
<circle cx="61.9" cy="917.7" r="2.7" fill="url(#gC)" stroke="#4a4a4a" stroke-width="0.6"/>
<circle cx="90.5" cy="910.7" r="2.7" fill="url(#gC)" stroke="#4a4a4a" stroke-width="0.6"/>
<circle cx="100.5" cy="914.2" r="2.7" fill="url(#gC)" stroke="#4a4a4a" stroke-width="0.6"/>
<circle cx="102.2" cy="921.2" r="2.7" fill="url(#gC)" stroke="#4a4a4a" stroke-width="0.6"/>
<circle cx="87.3" cy="921.2" r="2.7" fill="url(#gC)" stroke="#4a4a4a" stroke-width="0.6"/>
<circle cx="76.8" cy="917.7" r="2.7" fill="url(#gC)" stroke="#4a4a4a" stroke-width="0.6"/>
<circle cx="112.7" cy="912.4" r="2.7" fill="url(#gC)" stroke="#4a4a4a" stroke-width="0.6"/>
<circle cx="113.6" cy="904.5" r="2.5" fill="url(#gF)" stroke="#6aa0a4" stroke-width="0.6"/>
<circle cx="120.3" cy="908.0" r="2.5" fill="url(#gF)" stroke="#6aa0a4" stroke-width="0.6"/>
<circle cx="117.1" cy="922.4" r="2.5" fill="url(#gF)" stroke="#6aa0a4" stroke-width="0.6"/>
<circle cx="49.7" cy="919.4" r="2.7" fill="url(#gC)" stroke="#4a4a4a" stroke-width="0.6"/>
<circle cx="52.3" cy="931.7" r="2.7" fill="url(#gC)" stroke="#4a4a4a" stroke-width="0.6"/>
<circle cx="60.2" cy="936.9" r="2.7" fill="url(#gC)" stroke="#4a4a4a" stroke-width="0.6"/>
<circle cx="65.4" cy="929.9" r="2.7" fill="url(#gC)" stroke="#4a4a4a" stroke-width="0.6"/>
<circle cx="73.3" cy="936.9" r="2.7" fill="url(#gC)" stroke="#4a4a4a" stroke-width="0.6"/>
<circle cx="85.6" cy="937.8" r="2.7" fill="url(#gC)" stroke="#4a4a4a" stroke-width="0.6"/>
<circle cx="91.7" cy="944.8" r="2.7" fill="url(#gC)" stroke="#4a4a4a" stroke-width="0.6"/>
<circle cx="86.5" cy="951.0" r="2.7" fill="url(#gC)" stroke="#4a4a4a" stroke-width="0.6"/>
<circle cx="75.1" cy="950.1" r="2.7" fill="url(#gC)" stroke="#4a4a4a" stroke-width="0.6"/>
<circle cx="67.2" cy="943.1" r="2.7" fill="url(#gC)" stroke="#4a4a4a" stroke-width="0.6"/>
<circle cx="89.1" cy="930.8" r="2.6" fill="url(#gO)" stroke="#7a1a1a" stroke-width="0.6"/>
<circle cx="100.5" cy="932.6" r="2.7" fill="url(#gC)" stroke="#4a4a4a" stroke-width="0.6"/>
<circle cx="100.5" cy="943.9" r="2.7" fill="url(#gC)" stroke="#4a4a4a" stroke-width="0.6"/>
<circle cx="104.0" cy="922.0" r="2.7" fill="url(#gC)" stroke="#4a4a4a" stroke-width="0.6"/>
<circle cx="93.5" cy="927.0" r="2.5" fill="url(#gF)" stroke="#6aa0a4" stroke-width="0.6"/>
<circle cx="79.5" cy="936.9" r="2.5" fill="url(#gF)" stroke="#6aa0a4" stroke-width="0.6"/>
<circle cx="55.5" cy="942.2" r="2.6" fill="url(#gO)" stroke="#7a1a1a" stroke-width="0.6"/>
<circle cx="47.9" cy="945.7" r="2.7" fill="url(#gC)" stroke="#4a4a4a" stroke-width="0.6"/>
<circle cx="36.5" cy="951.8" r="2.7" fill="url(#gC)" stroke="#4a4a4a" stroke-width="0.6"/>
<circle cx="48.8" cy="951.0" r="2.7" fill="url(#gC)" stroke="#4a4a4a" stroke-width="0.6"/>
<circle cx="62.8" cy="948.9" r="2.6" fill="url(#gO)" stroke="#7a1a1a" stroke-width="0.6"/>
<circle cx="58.4" cy="956.2" r="2.7" fill="url(#gC)" stroke="#4a4a4a" stroke-width="0.6"/>
<path d="M161.2 826.1L160.3 840.4M160.3 840.4L168.5 847.0M168.5 847.0L160.0 858.2M160.0 858.2L147.6 852.8M147.6 852.8L140.8 863.8M168.5 847.0L180.8 852.8M180.8 852.8L190.0 841.6M180.8 852.8L188.9 862.0M188.9 862.0L179.7 871.8M179.7 871.8L168.5 865.5M168.5 865.5L160.0 858.2M188.9 862.0L200.9 864.5M200.9 864.5L212.6 858.7M212.6 858.7L224.3 863.8M224.3 863.8L222.8 875.5M222.8 875.5L213.3 879.9M213.3 879.9L201.2 875.5M201.2 875.5L188.9 862.0M199.5 869.6L188.9 862.0M147.2 863.5L149.1 871.1M149.1 871.1L137.4 869.6M149.1 871.1L159.3 865.3M149.1 871.1L151.3 885.7M151.3 885.7L164.4 887.4M184.1 886.0L201.2 875.5M151.3 885.7L164.4 887.4M164.4 887.4L165.9 901.4M151.3 885.7L142.8 894.9M142.8 894.9L145.9 908.4M145.9 908.4L157.7 911.5M157.7 911.5L165.9 901.4M145.9 908.4L135.8 919.4M135.8 919.4L127.0 916.8M135.8 919.4L127.9 921.2M135.8 919.4L141.0 931.2M154.2 897.2L165.9 901.4M165.9 901.4L183.1 904.5M165.9 901.4L169.9 914.2M169.9 914.2L163.8 922.9M163.8 922.9L168.2 936.4M168.2 936.4L177.8 941.0M177.8 941.0L183.4 931.7M183.4 931.7L178.7 918.9M178.7 918.9L169.9 914.2M183.1 904.5L178.7 918.9M183.1 904.5L195.3 908.0M195.3 908.0L208.5 904.5M208.5 904.5L218.1 905.4M218.1 905.4L212.9 911.5M212.9 911.5L199.7 915.0M199.7 915.0L190.1 913.3M190.1 913.3L195.3 908.0M218.1 905.4L231.2 900.7M231.2 900.7L233.0 888.4M231.2 900.7L235.6 900.7M231.2 900.7L239.1 908.9M178.7 918.9L194.5 921.2M194.5 921.2L191.8 937.8M191.8 937.8L183.4 931.7M191.8 937.8L200.6 950.1M200.6 950.1L213.7 949.2M213.7 949.2L217.2 941.3M217.2 941.3L212.0 936.1M212.0 936.1L206.7 936.9M206.7 936.9L191.8 937.8M212.0 936.1L211.1 929.1M211.1 929.1L225.1 921.7M213.7 949.2L225.1 954.5M225.1 954.5L228.6 944.5M225.1 954.5L222.5 965.0M177.8 941.0L176.1 949.2M176.1 949.2L183.1 954.5M183.1 954.5L177.8 962.3M170.8 945.7L176.1 949.2M170.8 945.7L173.4 962.3" stroke="#111" stroke-width="1.5" fill="none" stroke-linecap="round"/>
<line x1="184.1" y1="886.0" x2="179.7" y2="871.8" stroke="#b5b870" stroke-width="1.1"/>
<line x1="184.1" y1="886.0" x2="183.1" y2="904.5" stroke="#b5b870" stroke-width="1.1"/>
<line x1="184.1" y1="886.0" x2="165.9" y2="901.4" stroke="#b5b870" stroke-width="1.1"/>
<circle cx="161.2" cy="826.1" r="2.7" fill="url(#gC)" stroke="#4a4a4a" stroke-width="0.6"/>
<circle cx="160.3" cy="840.4" r="2.6" fill="url(#gO)" stroke="#7a1a1a" stroke-width="0.6"/>
<circle cx="168.5" cy="847.0" r="2.7" fill="url(#gC)" stroke="#4a4a4a" stroke-width="0.6"/>
<circle cx="160.0" cy="858.2" r="2.7" fill="url(#gC)" stroke="#4a4a4a" stroke-width="0.6"/>
<circle cx="147.6" cy="852.8" r="2.7" fill="url(#gC)" stroke="#4a4a4a" stroke-width="0.6"/>
<circle cx="140.8" cy="863.8" r="2.6" fill="url(#gO)" stroke="#7a1a1a" stroke-width="0.6"/>
<circle cx="180.8" cy="852.8" r="2.7" fill="url(#gC)" stroke="#4a4a4a" stroke-width="0.6"/>
<circle cx="190.0" cy="841.6" r="2.7" fill="url(#gC)" stroke="#4a4a4a" stroke-width="0.6"/>
<circle cx="188.9" cy="862.0" r="2.7" fill="url(#gC)" stroke="#4a4a4a" stroke-width="0.6"/>
<circle cx="179.7" cy="871.8" r="2.7" fill="url(#gC)" stroke="#4a4a4a" stroke-width="0.6"/>
<circle cx="168.5" cy="865.5" r="2.6" fill="url(#gO)" stroke="#7a1a1a" stroke-width="0.6"/>
<circle cx="200.9" cy="864.5" r="2.7" fill="url(#gC)" stroke="#4a4a4a" stroke-width="0.6"/>
<circle cx="212.6" cy="858.7" r="2.7" fill="url(#gC)" stroke="#4a4a4a" stroke-width="0.6"/>
<circle cx="224.3" cy="863.8" r="2.7" fill="url(#gC)" stroke="#4a4a4a" stroke-width="0.6"/>
<circle cx="222.8" cy="875.5" r="2.7" fill="url(#gC)" stroke="#4a4a4a" stroke-width="0.6"/>
<circle cx="213.3" cy="879.9" r="2.7" fill="url(#gC)" stroke="#4a4a4a" stroke-width="0.6"/>
<circle cx="201.2" cy="875.5" r="2.7" fill="url(#gC)" stroke="#4a4a4a" stroke-width="0.6"/>
<circle cx="199.5" cy="869.6" r="2.6" fill="url(#gO)" stroke="#7a1a1a" stroke-width="0.6"/>
<circle cx="147.2" cy="863.5" r="2.5" fill="url(#gF)" stroke="#6aa0a4" stroke-width="0.6"/>
<circle cx="149.1" cy="871.1" r="2.7" fill="url(#gC)" stroke="#4a4a4a" stroke-width="0.6"/>
<circle cx="137.4" cy="869.6" r="2.5" fill="url(#gF)" stroke="#6aa0a4" stroke-width="0.6"/>
<circle cx="159.3" cy="865.3" r="2.5" fill="url(#gF)" stroke="#6aa0a4" stroke-width="0.6"/>
<circle cx="151.3" cy="885.7" r="2.7" fill="url(#gC)" stroke="#4a4a4a" stroke-width="0.6"/>
<circle cx="164.4" cy="887.4" r="2.7" fill="url(#gC)" stroke="#4a4a4a" stroke-width="0.6"/>
<circle cx="184.1" cy="886.0" r="2.8" fill="url(#gPd)" stroke="#0e3444" stroke-width="0.6"/>
<circle cx="183.1" cy="904.5" r="2.8" fill="url(#gP)" stroke="#7a4408" stroke-width="0.6"/>
<circle cx="165.9" cy="901.4" r="2.6" fill="url(#gO)" stroke="#7a1a1a" stroke-width="0.6"/>
<circle cx="142.8" cy="894.9" r="2.7" fill="url(#gC)" stroke="#4a4a4a" stroke-width="0.6"/>
<circle cx="145.9" cy="908.4" r="2.7" fill="url(#gC)" stroke="#4a4a4a" stroke-width="0.6"/>
<circle cx="157.7" cy="911.5" r="2.7" fill="url(#gC)" stroke="#4a4a4a" stroke-width="0.6"/>
<circle cx="135.8" cy="919.4" r="2.7" fill="url(#gC)" stroke="#4a4a4a" stroke-width="0.6"/>
<circle cx="127.0" cy="916.8" r="2.5" fill="url(#gF)" stroke="#6aa0a4" stroke-width="0.6"/>
<circle cx="127.9" cy="921.2" r="2.5" fill="url(#gF)" stroke="#6aa0a4" stroke-width="0.6"/>
<circle cx="141.0" cy="931.2" r="2.5" fill="url(#gF)" stroke="#6aa0a4" stroke-width="0.6"/>
<circle cx="154.2" cy="897.2" r="2.7" fill="url(#gC)" stroke="#4a4a4a" stroke-width="0.6"/>
<circle cx="169.9" cy="914.2" r="2.7" fill="url(#gC)" stroke="#4a4a4a" stroke-width="0.6"/>
<circle cx="163.8" cy="922.9" r="2.7" fill="url(#gC)" stroke="#4a4a4a" stroke-width="0.6"/>
<circle cx="168.2" cy="936.4" r="2.7" fill="url(#gC)" stroke="#4a4a4a" stroke-width="0.6"/>
<circle cx="177.8" cy="941.0" r="2.7" fill="url(#gC)" stroke="#4a4a4a" stroke-width="0.6"/>
<circle cx="183.4" cy="931.7" r="2.7" fill="url(#gC)" stroke="#4a4a4a" stroke-width="0.6"/>
<circle cx="178.7" cy="918.9" r="2.7" fill="url(#gC)" stroke="#4a4a4a" stroke-width="0.6"/>
<circle cx="195.3" cy="908.0" r="2.7" fill="url(#gC)" stroke="#4a4a4a" stroke-width="0.6"/>
<circle cx="208.5" cy="904.5" r="2.7" fill="url(#gC)" stroke="#4a4a4a" stroke-width="0.6"/>
<circle cx="218.1" cy="905.4" r="2.7" fill="url(#gC)" stroke="#4a4a4a" stroke-width="0.6"/>
<circle cx="212.9" cy="911.5" r="2.7" fill="url(#gC)" stroke="#4a4a4a" stroke-width="0.6"/>
<circle cx="199.7" cy="915.0" r="2.7" fill="url(#gC)" stroke="#4a4a4a" stroke-width="0.6"/>
<circle cx="190.1" cy="913.3" r="2.7" fill="url(#gC)" stroke="#4a4a4a" stroke-width="0.6"/>
<circle cx="231.2" cy="900.7" r="2.7" fill="url(#gC)" stroke="#4a4a4a" stroke-width="0.6"/>
<circle cx="233.0" cy="888.4" r="2.5" fill="url(#gF)" stroke="#6aa0a4" stroke-width="0.6"/>
<circle cx="235.6" cy="900.7" r="2.5" fill="url(#gF)" stroke="#6aa0a4" stroke-width="0.6"/>
<circle cx="239.1" cy="908.9" r="2.5" fill="url(#gF)" stroke="#6aa0a4" stroke-width="0.6"/>
<circle cx="194.5" cy="921.2" r="2.7" fill="url(#gC)" stroke="#4a4a4a" stroke-width="0.6"/>
<circle cx="191.8" cy="937.8" r="2.7" fill="url(#gC)" stroke="#4a4a4a" stroke-width="0.6"/>
<circle cx="196.2" cy="933.4" r="2.5" fill="url(#gF)" stroke="#6aa0a4" stroke-width="0.6"/>
<circle cx="181.3" cy="918.9" r="2.5" fill="url(#gF)" stroke="#6aa0a4" stroke-width="0.6"/>
<circle cx="120.9" cy="908.0" r="2.5" fill="url(#gF)" stroke="#6aa0a4" stroke-width="0.6"/>
<circle cx="200.6" cy="950.1" r="2.7" fill="url(#gC)" stroke="#4a4a4a" stroke-width="0.6"/>
<circle cx="213.7" cy="949.2" r="2.7" fill="url(#gC)" stroke="#4a4a4a" stroke-width="0.6"/>
<circle cx="217.2" cy="941.3" r="2.7" fill="url(#gC)" stroke="#4a4a4a" stroke-width="0.6"/>
<circle cx="212.0" cy="936.1" r="2.7" fill="url(#gC)" stroke="#4a4a4a" stroke-width="0.6"/>
<circle cx="206.7" cy="936.9" r="2.7" fill="url(#gC)" stroke="#4a4a4a" stroke-width="0.6"/>
<circle cx="211.1" cy="929.1" r="2.7" fill="url(#gC)" stroke="#4a4a4a" stroke-width="0.6"/>
<circle cx="225.1" cy="921.7" r="2.7" fill="url(#gC)" stroke="#4a4a4a" stroke-width="0.6"/>
<circle cx="225.1" cy="954.5" r="2.7" fill="url(#gC)" stroke="#4a4a4a" stroke-width="0.6"/>
<circle cx="228.6" cy="944.5" r="2.7" fill="url(#gC)" stroke="#4a4a4a" stroke-width="0.6"/>
<circle cx="222.5" cy="965.0" r="2.7" fill="url(#gC)" stroke="#4a4a4a" stroke-width="0.6"/>
<circle cx="176.1" cy="949.2" r="2.7" fill="url(#gC)" stroke="#4a4a4a" stroke-width="0.6"/>
<circle cx="183.1" cy="954.5" r="2.6" fill="url(#gO)" stroke="#7a1a1a" stroke-width="0.6"/>
<circle cx="177.8" cy="962.3" r="2.7" fill="url(#gC)" stroke="#4a4a4a" stroke-width="0.6"/>
<circle cx="170.8" cy="945.7" r="2.7" fill="url(#gC)" stroke="#4a4a4a" stroke-width="0.6"/>
<circle cx="173.4" cy="962.3" r="2.7" fill="url(#gC)" stroke="#4a4a4a" stroke-width="0.6"/>
<path d="M263.4 820.0L260.8 832.3M260.8 832.3L270.9 839.7M270.9 839.7L266.9 850.5M266.9 850.5L262.1 845.9M262.1 845.9L256.4 856.0M256.4 856.0L254.5 853.8M270.9 839.7L276.1 845.5M276.1 845.5L281.0 835.8M281.0 835.8L274.4 833.1M276.1 845.5L286.0 854.4M286.0 854.4L288.9 861.2M288.9 861.2L299.4 856.0M286.0 854.4L281.0 864.7M281.0 864.7L276.8 858.4M276.8 858.4L266.9 850.5M297.2 871.2L299.8 866.5M299.8 866.5L310.9 864.7M310.9 864.7L321.5 865.6M321.5 865.6L319.5 870.2M319.5 870.2L307.7 872.2M307.7 872.2L297.2 871.2M259.1 905.7L247.4 910.0M247.4 910.0L245.2 921.0M245.2 921.0L254.7 926.8M254.7 926.8L266.4 922.4M266.4 922.4L269.3 912.2M269.3 912.2L259.1 905.7M259.1 905.7L262.0 895.4M262.0 895.4L252.5 887.4M254.7 926.8L253.2 938.1M253.2 938.1L241.6 942.4M283.5 903.9L269.3 912.2M273.7 899.1L275.1 910.0M283.5 903.9L294.1 897.6M294.1 897.6L303.6 889.6M303.6 889.6L298.1 878.2M303.6 889.6L314.6 887.8M303.6 889.6L306.2 892.5M294.1 897.6L297.8 899.8M297.8 899.8L285.4 917.3M283.5 903.9L296.3 912.2M296.3 912.2L301.4 906.4M301.4 906.4L310.9 910.0M310.9 910.0L318.2 920.5M318.2 920.5L313.8 926.1M313.8 926.1L302.9 921.4M302.9 921.4L296.3 912.2M310.9 910.0L315.3 905.7M315.3 905.7L313.1 893.7M315.3 905.7L327.3 907.1M315.3 905.7L310.2 911.5M313.8 926.1L321.1 935.6M321.1 935.6L332.5 935.1M321.1 935.6L316.8 946.5M266.4 922.4L280.3 926.8M280.3 926.8L288.3 934.1M288.3 934.1L292.7 945.1M292.7 945.1L289.0 948.7M289.0 948.7L280.3 941.0M280.3 941.0L275.9 931.2M275.9 931.2L266.4 922.4M280.3 926.8L285.4 917.3M285.4 917.3L276.6 912.2M275.9 917.3L280.3 926.8M277.0 943.3L280.3 941.0M277.0 943.3L278.8 955.0M278.8 955.0L267.8 956.0M278.8 955.0L291.2 955.0" stroke="#111" stroke-width="1.5" fill="none" stroke-linecap="round"/>
<line x1="281.0" y1="864.7" x2="297.2" y2="871.2" stroke="#b04040" stroke-width="1.0" stroke-dasharray="1.6 1.1"/>
<line x1="281.0" y1="864.7" x2="283.5" y2="883.1" stroke="#b04040" stroke-width="1.0" stroke-dasharray="1.6 1.1"/>
<line x1="297.2" y1="871.2" x2="283.5" y2="883.1" stroke="#b04040" stroke-width="1.0" stroke-dasharray="1.6 1.1"/>
<line x1="283.5" y1="883.1" x2="283.5" y2="903.9" stroke="#b5b870" stroke-width="1.0" stroke-dasharray="1.6 1.1"/>
<circle cx="263.4" cy="820.0" r="2.7" fill="url(#gC)" stroke="#4a4a4a" stroke-width="0.6"/>
<circle cx="260.8" cy="832.3" r="2.6" fill="url(#gO)" stroke="#7a1a1a" stroke-width="0.6"/>
<circle cx="270.9" cy="839.7" r="2.7" fill="url(#gC)" stroke="#4a4a4a" stroke-width="0.6"/>
<circle cx="266.9" cy="850.5" r="2.7" fill="url(#gC)" stroke="#4a4a4a" stroke-width="0.6"/>
<circle cx="262.1" cy="845.9" r="2.7" fill="url(#gC)" stroke="#4a4a4a" stroke-width="0.6"/>
<circle cx="256.4" cy="856.0" r="2.6" fill="url(#gO)" stroke="#7a1a1a" stroke-width="0.6"/>
<circle cx="254.5" cy="853.8" r="1.2" fill="url(#gH)" stroke="#777" stroke-width="0.6"/>
<circle cx="276.1" cy="845.5" r="2.7" fill="url(#gC)" stroke="#4a4a4a" stroke-width="0.6"/>
<circle cx="281.0" cy="835.8" r="2.6" fill="url(#gO)" stroke="#7a1a1a" stroke-width="0.6"/>
<circle cx="274.4" cy="833.1" r="2.7" fill="url(#gC)" stroke="#4a4a4a" stroke-width="0.6"/>
<circle cx="286.0" cy="854.4" r="2.7" fill="url(#gC)" stroke="#4a4a4a" stroke-width="0.6"/>
<circle cx="288.9" cy="861.2" r="2.6" fill="url(#gO)" stroke="#7a1a1a" stroke-width="0.6"/>
<circle cx="299.4" cy="856.0" r="2.7" fill="url(#gC)" stroke="#4a4a4a" stroke-width="0.6"/>
<circle cx="281.0" cy="864.7" r="2.7" fill="url(#gC)" stroke="#4a4a4a" stroke-width="0.6"/>
<circle cx="276.8" cy="858.4" r="2.6" fill="url(#gO)" stroke="#7a1a1a" stroke-width="0.6"/>
<circle cx="297.2" cy="871.2" r="2.7" fill="url(#gC)" stroke="#4a4a4a" stroke-width="0.6"/>
<circle cx="299.8" cy="866.5" r="2.7" fill="url(#gC)" stroke="#4a4a4a" stroke-width="0.6"/>
<circle cx="310.9" cy="864.7" r="2.7" fill="url(#gC)" stroke="#4a4a4a" stroke-width="0.6"/>
<circle cx="321.5" cy="865.6" r="2.7" fill="url(#gC)" stroke="#4a4a4a" stroke-width="0.6"/>
<circle cx="319.5" cy="870.2" r="2.7" fill="url(#gC)" stroke="#4a4a4a" stroke-width="0.6"/>
<circle cx="307.7" cy="872.2" r="2.7" fill="url(#gC)" stroke="#4a4a4a" stroke-width="0.6"/>
<circle cx="283.5" cy="883.1" r="2.8" fill="url(#gPd)" stroke="#0e3444" stroke-width="0.6"/>
<circle cx="283.5" cy="903.9" r="2.8" fill="url(#gP)" stroke="#7a4408" stroke-width="0.6"/>
<circle cx="259.1" cy="905.7" r="2.7" fill="url(#gC)" stroke="#4a4a4a" stroke-width="0.6"/>
<circle cx="247.4" cy="910.0" r="2.7" fill="url(#gC)" stroke="#4a4a4a" stroke-width="0.6"/>
<circle cx="245.2" cy="921.0" r="2.7" fill="url(#gC)" stroke="#4a4a4a" stroke-width="0.6"/>
<circle cx="254.7" cy="926.8" r="2.7" fill="url(#gC)" stroke="#4a4a4a" stroke-width="0.6"/>
<circle cx="266.4" cy="922.4" r="2.7" fill="url(#gC)" stroke="#4a4a4a" stroke-width="0.6"/>
<circle cx="269.3" cy="912.2" r="2.7" fill="url(#gC)" stroke="#4a4a4a" stroke-width="0.6"/>
<circle cx="262.0" cy="895.4" r="2.6" fill="url(#gO)" stroke="#7a1a1a" stroke-width="0.6"/>
<circle cx="252.5" cy="887.4" r="2.7" fill="url(#gC)" stroke="#4a4a4a" stroke-width="0.6"/>
<circle cx="253.2" cy="938.1" r="2.6" fill="url(#gO)" stroke="#7a1a1a" stroke-width="0.6"/>
<circle cx="241.6" cy="942.4" r="2.7" fill="url(#gC)" stroke="#4a4a4a" stroke-width="0.6"/>
<circle cx="273.7" cy="899.1" r="2.7" fill="url(#gC)" stroke="#4a4a4a" stroke-width="0.6"/>
<circle cx="275.1" cy="910.0" r="2.7" fill="url(#gC)" stroke="#4a4a4a" stroke-width="0.6"/>
<circle cx="294.1" cy="897.6" r="2.7" fill="url(#gC)" stroke="#4a4a4a" stroke-width="0.6"/>
<circle cx="303.6" cy="889.6" r="2.7" fill="url(#gC)" stroke="#4a4a4a" stroke-width="0.6"/>
<circle cx="298.1" cy="878.2" r="2.5" fill="url(#gF)" stroke="#6aa0a4" stroke-width="0.6"/>
<circle cx="314.6" cy="887.8" r="2.5" fill="url(#gF)" stroke="#6aa0a4" stroke-width="0.6"/>
<circle cx="306.2" cy="892.5" r="2.5" fill="url(#gF)" stroke="#6aa0a4" stroke-width="0.6"/>
<circle cx="297.8" cy="899.8" r="2.7" fill="url(#gC)" stroke="#4a4a4a" stroke-width="0.6"/>
<circle cx="285.4" cy="917.3" r="2.7" fill="url(#gC)" stroke="#4a4a4a" stroke-width="0.6"/>
<circle cx="296.3" cy="912.2" r="2.7" fill="url(#gC)" stroke="#4a4a4a" stroke-width="0.6"/>
<circle cx="301.4" cy="906.4" r="2.7" fill="url(#gC)" stroke="#4a4a4a" stroke-width="0.6"/>
<circle cx="310.9" cy="910.0" r="2.7" fill="url(#gC)" stroke="#4a4a4a" stroke-width="0.6"/>
<circle cx="318.2" cy="920.5" r="2.7" fill="url(#gC)" stroke="#4a4a4a" stroke-width="0.6"/>
<circle cx="313.8" cy="926.1" r="2.7" fill="url(#gC)" stroke="#4a4a4a" stroke-width="0.6"/>
<circle cx="302.9" cy="921.4" r="2.7" fill="url(#gC)" stroke="#4a4a4a" stroke-width="0.6"/>
<circle cx="315.3" cy="905.7" r="2.7" fill="url(#gC)" stroke="#4a4a4a" stroke-width="0.6"/>
<circle cx="313.1" cy="893.7" r="2.5" fill="url(#gF)" stroke="#6aa0a4" stroke-width="0.6"/>
<circle cx="327.3" cy="907.1" r="2.5" fill="url(#gF)" stroke="#6aa0a4" stroke-width="0.6"/>
<circle cx="310.2" cy="911.5" r="2.5" fill="url(#gF)" stroke="#6aa0a4" stroke-width="0.6"/>
<circle cx="321.1" cy="935.6" r="2.7" fill="url(#gC)" stroke="#4a4a4a" stroke-width="0.6"/>
<circle cx="332.5" cy="935.1" r="2.5" fill="url(#gF)" stroke="#6aa0a4" stroke-width="0.6"/>
<circle cx="316.8" cy="946.5" r="2.5" fill="url(#gF)" stroke="#6aa0a4" stroke-width="0.6"/>
<circle cx="280.3" cy="926.8" r="2.7" fill="url(#gC)" stroke="#4a4a4a" stroke-width="0.6"/>
<circle cx="288.3" cy="934.1" r="2.7" fill="url(#gC)" stroke="#4a4a4a" stroke-width="0.6"/>
<circle cx="292.7" cy="945.1" r="2.7" fill="url(#gC)" stroke="#4a4a4a" stroke-width="0.6"/>
<circle cx="289.0" cy="948.7" r="2.7" fill="url(#gC)" stroke="#4a4a4a" stroke-width="0.6"/>
<circle cx="280.3" cy="941.0" r="2.7" fill="url(#gC)" stroke="#4a4a4a" stroke-width="0.6"/>
<circle cx="275.9" cy="931.2" r="2.7" fill="url(#gC)" stroke="#4a4a4a" stroke-width="0.6"/>
<circle cx="276.6" cy="912.2" r="2.7" fill="url(#gC)" stroke="#4a4a4a" stroke-width="0.6"/>
<circle cx="275.9" cy="917.3" r="2.6" fill="url(#gO)" stroke="#7a1a1a" stroke-width="0.6"/>
<circle cx="277.0" cy="943.3" r="2.6" fill="url(#gO)" stroke="#7a1a1a" stroke-width="0.6"/>
<circle cx="278.8" cy="955.0" r="2.7" fill="url(#gC)" stroke="#4a4a4a" stroke-width="0.6"/>
<circle cx="267.8" cy="956.0" r="2.7" fill="url(#gC)" stroke="#4a4a4a" stroke-width="0.6"/>
<circle cx="291.2" cy="955.0" r="2.7" fill="url(#gC)" stroke="#4a4a4a" stroke-width="0.6"/>
<circle cx="269.3" cy="932.2" r="2.5" fill="url(#gF)" stroke="#6aa0a4" stroke-width="0.6"/>
<circle cx="287.6" cy="938.1" r="2.5" fill="url(#gF)" stroke="#6aa0a4" stroke-width="0.6"/>
<circle cx="239.4" cy="909.3" r="2.5" fill="url(#gF)" stroke="#6aa0a4" stroke-width="0.6"/>
<circle cx="236.5" cy="900.5" r="2.5" fill="url(#gF)" stroke="#6aa0a4" stroke-width="0.6"/>
<path d="M372.8 817.0L369.2 828.1M369.2 828.1L373.5 831.4M373.5 831.4L382.0 834.4M373.5 831.4L377.4 836.0M377.4 836.0L374.8 840.6M377.4 836.0L379.4 842.6M379.4 842.6L374.8 845.9M374.8 845.9L374.2 850.2M379.4 842.6L386.6 851.8M386.6 851.8L384.0 853.8M385.3 859.0L393.2 855.7M383.4 859.7L385.3 859.0M399.8 868.2L406.4 863.6M406.4 863.6L418.2 862.3M418.2 862.3L424.1 866.5M424.1 866.5L417.5 871.5M417.5 871.5L405.7 872.2M405.7 872.2L399.8 868.2M405.7 872.2L408.3 876.1M408.3 876.1L418.8 878.7M408.3 876.1L410.9 874.1M362.2 894.1L350.9 897.0M350.9 897.0L347.6 907.7M347.6 907.7L355.8 915.3M355.8 915.3L367.0 913.8M367.0 913.8L370.7 901.4M370.7 901.4L362.2 894.1M362.2 894.1L366.6 884.3M366.6 884.3L358.2 875.8M355.8 915.3L352.4 925.5M352.4 925.5L341.2 929.1M384.5 895.1L370.7 901.4M384.5 895.1L395.5 886.1M395.5 886.1L402.8 878.8M402.8 878.8L408.3 876.1M402.8 878.8L415.9 875.1M384.5 895.1L395.5 904.3M395.5 904.3L401.3 901.4M401.3 901.4L411.5 907.2M411.5 907.2L414.5 916.0M414.5 916.0L411.5 918.2M411.5 918.2L402.0 912.3M402.0 912.3L395.5 904.3M411.5 907.2L415.9 904.7M415.9 904.7L408.6 899.2M415.9 904.7L425.4 898.5M415.9 904.7L418.8 914.5M414.5 916.0L416.6 926.9M416.6 926.9L427.6 927.7M416.6 926.9L411.8 937.2M384.5 895.1L383.8 900.7M383.8 900.7L378.7 906.5M378.7 906.5L387.4 906.5M370.7 901.4L378.7 906.5M378.7 906.5L376.5 920.4M376.5 920.4L382.3 927.7M382.3 927.7L387.4 936.4M387.4 936.4L383.8 938.6M383.8 938.6L375.0 932.8M375.0 932.8L371.4 909.4M383.8 938.6L394.7 945.2M394.7 945.2L407.2 942.7M394.7 945.2L392.6 957.6M375.0 932.8L367.7 943.0" stroke="#111" stroke-width="1.5" fill="none" stroke-linecap="round"/>
<line x1="383.4" y1="859.7" x2="385.3" y2="877.4" stroke="#b04040" stroke-width="1.0" stroke-dasharray="1.6 1.1"/>
<line x1="383.4" y1="859.7" x2="399.8" y2="868.2" stroke="#b04040" stroke-width="1.0" stroke-dasharray="1.6 1.1"/>
<line x1="399.8" y1="868.2" x2="385.3" y2="877.4" stroke="#b04040" stroke-width="1.0" stroke-dasharray="1.6 1.1"/>
<line x1="385.3" y1="877.4" x2="384.5" y2="895.1" stroke="#b5b870" stroke-width="1.0" stroke-dasharray="1.6 1.1"/>
<circle cx="372.8" cy="817.0" r="2.7" fill="url(#gC)" stroke="#4a4a4a" stroke-width="0.6"/>
<circle cx="369.2" cy="828.1" r="2.6" fill="url(#gO)" stroke="#7a1a1a" stroke-width="0.6"/>
<circle cx="373.5" cy="831.4" r="2.7" fill="url(#gC)" stroke="#4a4a4a" stroke-width="0.6"/>
<circle cx="382.0" cy="834.4" r="2.6" fill="url(#gO)" stroke="#7a1a1a" stroke-width="0.6"/>
<circle cx="377.4" cy="836.0" r="2.7" fill="url(#gC)" stroke="#4a4a4a" stroke-width="0.6"/>
<circle cx="374.8" cy="840.6" r="2.7" fill="url(#gC)" stroke="#4a4a4a" stroke-width="0.6"/>
<circle cx="379.4" cy="842.6" r="2.7" fill="url(#gC)" stroke="#4a4a4a" stroke-width="0.6"/>
<circle cx="374.8" cy="845.9" r="2.7" fill="url(#gC)" stroke="#4a4a4a" stroke-width="0.6"/>
<circle cx="374.2" cy="850.2" r="2.6" fill="url(#gO)" stroke="#7a1a1a" stroke-width="0.6"/>
<circle cx="386.6" cy="851.8" r="2.7" fill="url(#gC)" stroke="#4a4a4a" stroke-width="0.6"/>
<circle cx="384.0" cy="853.8" r="2.6" fill="url(#gO)" stroke="#7a1a1a" stroke-width="0.6"/>
<circle cx="385.3" cy="859.0" r="2.6" fill="url(#gO)" stroke="#7a1a1a" stroke-width="0.6"/>
<circle cx="393.2" cy="855.7" r="2.7" fill="url(#gC)" stroke="#4a4a4a" stroke-width="0.6"/>
<circle cx="383.4" cy="859.7" r="2.7" fill="url(#gC)" stroke="#4a4a4a" stroke-width="0.6"/>
<circle cx="399.8" cy="868.2" r="2.7" fill="url(#gC)" stroke="#4a4a4a" stroke-width="0.6"/>
<circle cx="406.4" cy="863.6" r="2.7" fill="url(#gC)" stroke="#4a4a4a" stroke-width="0.6"/>
<circle cx="418.2" cy="862.3" r="2.7" fill="url(#gC)" stroke="#4a4a4a" stroke-width="0.6"/>
<circle cx="424.1" cy="866.5" r="2.7" fill="url(#gC)" stroke="#4a4a4a" stroke-width="0.6"/>
<circle cx="417.5" cy="871.5" r="2.7" fill="url(#gC)" stroke="#4a4a4a" stroke-width="0.6"/>
<circle cx="405.7" cy="872.2" r="2.7" fill="url(#gC)" stroke="#4a4a4a" stroke-width="0.6"/>
<circle cx="408.3" cy="876.1" r="2.7" fill="url(#gC)" stroke="#4a4a4a" stroke-width="0.6"/>
<circle cx="418.8" cy="878.7" r="2.5" fill="url(#gF)" stroke="#6aa0a4" stroke-width="0.6"/>
<circle cx="410.9" cy="874.1" r="2.5" fill="url(#gF)" stroke="#6aa0a4" stroke-width="0.6"/>
<circle cx="385.3" cy="877.4" r="2.8" fill="url(#gPd)" stroke="#0e3444" stroke-width="0.6"/>
<circle cx="384.5" cy="895.1" r="2.8" fill="url(#gP)" stroke="#7a4408" stroke-width="0.6"/>
<circle cx="362.2" cy="894.1" r="2.7" fill="url(#gC)" stroke="#4a4a4a" stroke-width="0.6"/>
<circle cx="350.9" cy="897.0" r="2.7" fill="url(#gC)" stroke="#4a4a4a" stroke-width="0.6"/>
<circle cx="347.6" cy="907.7" r="2.7" fill="url(#gC)" stroke="#4a4a4a" stroke-width="0.6"/>
<circle cx="355.8" cy="915.3" r="2.7" fill="url(#gC)" stroke="#4a4a4a" stroke-width="0.6"/>
<circle cx="367.0" cy="913.8" r="2.7" fill="url(#gC)" stroke="#4a4a4a" stroke-width="0.6"/>
<circle cx="370.7" cy="901.4" r="2.7" fill="url(#gC)" stroke="#4a4a4a" stroke-width="0.6"/>
<circle cx="366.6" cy="884.3" r="2.6" fill="url(#gO)" stroke="#7a1a1a" stroke-width="0.6"/>
<circle cx="358.2" cy="875.8" r="2.7" fill="url(#gC)" stroke="#4a4a4a" stroke-width="0.6"/>
<circle cx="352.4" cy="925.5" r="2.6" fill="url(#gO)" stroke="#7a1a1a" stroke-width="0.6"/>
<circle cx="341.2" cy="929.1" r="2.7" fill="url(#gC)" stroke="#4a4a4a" stroke-width="0.6"/>
<circle cx="395.5" cy="886.1" r="2.7" fill="url(#gC)" stroke="#4a4a4a" stroke-width="0.6"/>
<circle cx="402.8" cy="878.8" r="2.7" fill="url(#gC)" stroke="#4a4a4a" stroke-width="0.6"/>
<circle cx="415.9" cy="875.1" r="2.7" fill="url(#gC)" stroke="#4a4a4a" stroke-width="0.6"/>
<circle cx="395.5" cy="904.3" r="2.7" fill="url(#gC)" stroke="#4a4a4a" stroke-width="0.6"/>
<circle cx="401.3" cy="901.4" r="2.7" fill="url(#gC)" stroke="#4a4a4a" stroke-width="0.6"/>
<circle cx="411.5" cy="907.2" r="2.7" fill="url(#gC)" stroke="#4a4a4a" stroke-width="0.6"/>
<circle cx="414.5" cy="916.0" r="2.7" fill="url(#gC)" stroke="#4a4a4a" stroke-width="0.6"/>
<circle cx="411.5" cy="918.2" r="2.7" fill="url(#gC)" stroke="#4a4a4a" stroke-width="0.6"/>
<circle cx="402.0" cy="912.3" r="2.7" fill="url(#gC)" stroke="#4a4a4a" stroke-width="0.6"/>
<circle cx="415.9" cy="904.7" r="2.7" fill="url(#gC)" stroke="#4a4a4a" stroke-width="0.6"/>
<circle cx="408.6" cy="899.2" r="2.5" fill="url(#gF)" stroke="#6aa0a4" stroke-width="0.6"/>
<circle cx="425.4" cy="898.5" r="2.5" fill="url(#gF)" stroke="#6aa0a4" stroke-width="0.6"/>
<circle cx="418.8" cy="914.5" r="2.5" fill="url(#gF)" stroke="#6aa0a4" stroke-width="0.6"/>
<circle cx="416.6" cy="926.9" r="2.7" fill="url(#gC)" stroke="#4a4a4a" stroke-width="0.6"/>
<circle cx="427.6" cy="927.7" r="2.5" fill="url(#gF)" stroke="#6aa0a4" stroke-width="0.6"/>
<circle cx="411.8" cy="937.2" r="2.5" fill="url(#gF)" stroke="#6aa0a4" stroke-width="0.6"/>
<circle cx="383.8" cy="900.7" r="2.7" fill="url(#gC)" stroke="#4a4a4a" stroke-width="0.6"/>
<circle cx="378.7" cy="906.5" r="2.7" fill="url(#gC)" stroke="#4a4a4a" stroke-width="0.6"/>
<circle cx="387.4" cy="906.5" r="2.5" fill="url(#gF)" stroke="#6aa0a4" stroke-width="0.6"/>
<circle cx="376.5" cy="920.4" r="2.7" fill="url(#gC)" stroke="#4a4a4a" stroke-width="0.6"/>
<circle cx="382.3" cy="927.7" r="2.7" fill="url(#gC)" stroke="#4a4a4a" stroke-width="0.6"/>
<circle cx="387.4" cy="936.4" r="2.7" fill="url(#gC)" stroke="#4a4a4a" stroke-width="0.6"/>
<circle cx="383.8" cy="938.6" r="2.7" fill="url(#gC)" stroke="#4a4a4a" stroke-width="0.6"/>
<circle cx="375.0" cy="932.8" r="2.7" fill="url(#gC)" stroke="#4a4a4a" stroke-width="0.6"/>
<circle cx="371.4" cy="909.4" r="2.7" fill="url(#gC)" stroke="#4a4a4a" stroke-width="0.6"/>
<circle cx="394.7" cy="945.2" r="2.7" fill="url(#gC)" stroke="#4a4a4a" stroke-width="0.6"/>
<circle cx="407.2" cy="942.7" r="2.7" fill="url(#gC)" stroke="#4a4a4a" stroke-width="0.6"/>
<circle cx="392.6" cy="957.6" r="2.7" fill="url(#gC)" stroke="#4a4a4a" stroke-width="0.6"/>
<circle cx="367.7" cy="943.0" r="2.7" fill="url(#gC)" stroke="#4a4a4a" stroke-width="0.6"/>
<circle cx="380.1" cy="917.0" r="2.5" fill="url(#gF)" stroke="#6aa0a4" stroke-width="0.6"/>
<path d="M468.3 835.0L481.1 836.3M481.1 836.3L485.6 849.6M485.6 849.6L476.5 849.1M485.6 849.6L495.7 844.2M495.7 844.2L498.4 850.5M498.4 850.5L504.8 861.5M504.8 861.5L499.3 868.8M499.3 868.8L489.3 863.3M489.3 863.3L485.6 849.6M497.5 855.1L498.4 850.5M504.8 861.5L516.6 849.6M516.6 849.6L527.6 847.8M520.3 853.3L524.3 857.5M481.1 856.9L476.5 849.1M499.3 868.8L483.8 871.5M483.8 871.5L477.4 863.7M483.8 871.5L479.2 869.7M456.4 874.3L469.2 877.0M469.2 877.0L476.5 882.5M476.5 882.5L470.1 885.2M470.1 885.2L457.3 883.4M457.3 883.4L450.0 878.8M450.0 878.8L456.4 874.3M476.5 882.5L482.0 885.2M482.0 885.2L488.4 888.0M488.4 888.0L486.5 899.8M482.0 885.2L476.5 892.5M476.5 892.5L473.8 905.3M473.8 905.3L480.1 908.9M480.1 908.9L486.5 899.8M493.8 903.5L486.5 899.8M493.8 903.5L483.8 916.2M483.8 916.2L467.4 914.4M467.4 914.4L462.8 922.6M462.8 922.6L466.5 934.5M466.5 934.5L478.3 938.1M478.3 938.1L487.4 929.0M487.4 929.0L483.8 916.2M462.8 922.6L450.0 919.0M450.0 919.0L444.6 909.9M450.0 919.0L442.2 929.0M450.0 919.0L450.0 914.4M471.0 913.5L457.3 909.3M471.0 913.5L473.8 920.8M478.3 938.1L482.9 950.9M482.9 950.9L477.4 958.2M482.9 950.9L488.4 948.2M488.4 948.2L503.0 945.4M503.0 945.4L508.4 955.5M488.4 948.2L495.7 952.7M503.0 945.4L504.8 934.1M504.8 934.1L506.6 923.5M506.6 923.5L503.0 922.6M503.0 922.6L506.6 910.8M493.8 903.5L506.6 910.8M506.6 910.8L513.0 901.6M513.0 901.6L518.5 892.5M518.5 892.5L523.9 881.6M523.9 881.6L523.9 871.5M523.9 881.6L536.7 884.3M513.0 901.6L510.3 910.8M510.3 910.8L514.8 913.5M514.8 913.5L525.8 918.1M525.8 918.1L534.0 920.8M534.0 920.8L546.8 926.3M534.0 922.6L534.0 920.8M506.6 923.5L514.8 913.5" stroke="#111" stroke-width="1.5" fill="none" stroke-linecap="round"/>
<line x1="516.6" y1="849.6" x2="504.8" y2="861.5" stroke="#b04040" stroke-width="1.0" stroke-dasharray="1.6 1.1"/>
<line x1="495.1" y1="884.3" x2="493.8" y2="903.5" stroke="#b5b870" stroke-width="1.0" stroke-dasharray="1.6 1.1"/>
<line x1="495.1" y1="884.3" x2="482.0" y2="883.4" stroke="#b5b870" stroke-width="1.0" stroke-dasharray="1.6 1.1"/>
<line x1="495.1" y1="884.3" x2="513.9" y2="885.2" stroke="#b5b870" stroke-width="1.0" stroke-dasharray="1.6 1.1"/>
<line x1="495.1" y1="884.3" x2="499.3" y2="868.8" stroke="#b04040" stroke-width="1.0" stroke-dasharray="1.6 1.1"/>
<circle cx="468.3" cy="835.0" r="2.7" fill="url(#gC)" stroke="#4a4a4a" stroke-width="0.6"/>
<circle cx="481.1" cy="836.3" r="2.6" fill="url(#gO)" stroke="#7a1a1a" stroke-width="0.6"/>
<circle cx="485.6" cy="849.6" r="2.7" fill="url(#gC)" stroke="#4a4a4a" stroke-width="0.6"/>
<circle cx="476.5" cy="849.1" r="2.6" fill="url(#gO)" stroke="#7a1a1a" stroke-width="0.6"/>
<circle cx="495.7" cy="844.2" r="2.7" fill="url(#gC)" stroke="#4a4a4a" stroke-width="0.6"/>
<circle cx="498.4" cy="850.5" r="2.7" fill="url(#gC)" stroke="#4a4a4a" stroke-width="0.6"/>
<circle cx="504.8" cy="861.5" r="2.7" fill="url(#gC)" stroke="#4a4a4a" stroke-width="0.6"/>
<circle cx="499.3" cy="868.8" r="2.7" fill="url(#gC)" stroke="#4a4a4a" stroke-width="0.6"/>
<circle cx="489.3" cy="863.3" r="2.6" fill="url(#gO)" stroke="#7a1a1a" stroke-width="0.6"/>
<circle cx="497.5" cy="855.1" r="2.6" fill="url(#gO)" stroke="#7a1a1a" stroke-width="0.6"/>
<circle cx="516.6" cy="849.6" r="2.6" fill="url(#gO)" stroke="#7a1a1a" stroke-width="0.6"/>
<circle cx="527.6" cy="847.8" r="2.7" fill="url(#gC)" stroke="#4a4a4a" stroke-width="0.6"/>
<circle cx="520.3" cy="853.3" r="2.6" fill="url(#gCu)" stroke="#5a3a10" stroke-width="0.6"/>
<circle cx="524.3" cy="857.5" r="2.8" fill="url(#gCl)" stroke="#2a6a1c" stroke-width="0.6"/>
<circle cx="481.1" cy="856.9" r="1.2" fill="url(#gH)" stroke="#777" stroke-width="0.6"/>
<circle cx="483.8" cy="871.5" r="2.7" fill="url(#gC)" stroke="#4a4a4a" stroke-width="0.6"/>
<circle cx="477.4" cy="863.7" r="2.5" fill="url(#gF)" stroke="#6aa0a4" stroke-width="0.6"/>
<circle cx="479.2" cy="869.7" r="2.5" fill="url(#gF)" stroke="#6aa0a4" stroke-width="0.6"/>
<circle cx="456.4" cy="874.3" r="2.7" fill="url(#gC)" stroke="#4a4a4a" stroke-width="0.6"/>
<circle cx="469.2" cy="877.0" r="2.7" fill="url(#gC)" stroke="#4a4a4a" stroke-width="0.6"/>
<circle cx="476.5" cy="882.5" r="2.7" fill="url(#gC)" stroke="#4a4a4a" stroke-width="0.6"/>
<circle cx="470.1" cy="885.2" r="2.7" fill="url(#gC)" stroke="#4a4a4a" stroke-width="0.6"/>
<circle cx="457.3" cy="883.4" r="2.7" fill="url(#gC)" stroke="#4a4a4a" stroke-width="0.6"/>
<circle cx="450.0" cy="878.8" r="2.7" fill="url(#gC)" stroke="#4a4a4a" stroke-width="0.6"/>
<circle cx="482.0" cy="885.2" r="2.7" fill="url(#gC)" stroke="#4a4a4a" stroke-width="0.6"/>
<circle cx="488.4" cy="888.0" r="2.7" fill="url(#gC)" stroke="#4a4a4a" stroke-width="0.6"/>
<circle cx="486.5" cy="899.8" r="2.7" fill="url(#gC)" stroke="#4a4a4a" stroke-width="0.6"/>
<circle cx="476.5" cy="892.5" r="2.7" fill="url(#gC)" stroke="#4a4a4a" stroke-width="0.6"/>
<circle cx="473.8" cy="905.3" r="2.7" fill="url(#gC)" stroke="#4a4a4a" stroke-width="0.6"/>
<circle cx="480.1" cy="908.9" r="2.7" fill="url(#gC)" stroke="#4a4a4a" stroke-width="0.6"/>
<circle cx="493.8" cy="903.5" r="2.8" fill="url(#gP)" stroke="#7a4408" stroke-width="0.6"/>
<circle cx="483.8" cy="916.2" r="2.7" fill="url(#gC)" stroke="#4a4a4a" stroke-width="0.6"/>
<circle cx="467.4" cy="914.4" r="2.7" fill="url(#gC)" stroke="#4a4a4a" stroke-width="0.6"/>
<circle cx="462.8" cy="922.6" r="2.7" fill="url(#gC)" stroke="#4a4a4a" stroke-width="0.6"/>
<circle cx="466.5" cy="934.5" r="2.7" fill="url(#gC)" stroke="#4a4a4a" stroke-width="0.6"/>
<circle cx="478.3" cy="938.1" r="2.7" fill="url(#gC)" stroke="#4a4a4a" stroke-width="0.6"/>
<circle cx="487.4" cy="929.0" r="2.7" fill="url(#gC)" stroke="#4a4a4a" stroke-width="0.6"/>
<circle cx="450.0" cy="919.0" r="2.7" fill="url(#gC)" stroke="#4a4a4a" stroke-width="0.6"/>
<circle cx="444.6" cy="909.9" r="2.5" fill="url(#gF)" stroke="#6aa0a4" stroke-width="0.6"/>
<circle cx="442.2" cy="929.0" r="2.5" fill="url(#gF)" stroke="#6aa0a4" stroke-width="0.6"/>
<circle cx="450.0" cy="914.4" r="2.5" fill="url(#gF)" stroke="#6aa0a4" stroke-width="0.6"/>
<circle cx="471.0" cy="913.5" r="2.7" fill="url(#gC)" stroke="#4a4a4a" stroke-width="0.6"/>
<circle cx="457.3" cy="909.3" r="2.5" fill="url(#gF)" stroke="#6aa0a4" stroke-width="0.6"/>
<circle cx="473.8" cy="920.8" r="2.5" fill="url(#gF)" stroke="#6aa0a4" stroke-width="0.6"/>
<circle cx="482.9" cy="950.9" r="2.7" fill="url(#gC)" stroke="#4a4a4a" stroke-width="0.6"/>
<circle cx="477.4" cy="958.2" r="2.5" fill="url(#gF)" stroke="#6aa0a4" stroke-width="0.6"/>
<circle cx="488.4" cy="948.2" r="2.7" fill="url(#gC)" stroke="#4a4a4a" stroke-width="0.6"/>
<circle cx="503.0" cy="945.4" r="2.7" fill="url(#gC)" stroke="#4a4a4a" stroke-width="0.6"/>
<circle cx="508.4" cy="955.5" r="2.7" fill="url(#gC)" stroke="#4a4a4a" stroke-width="0.6"/>
<circle cx="495.7" cy="952.7" r="2.5" fill="url(#gF)" stroke="#6aa0a4" stroke-width="0.6"/>
<circle cx="504.8" cy="934.1" r="2.6" fill="url(#gO)" stroke="#7a1a1a" stroke-width="0.6"/>
<circle cx="506.6" cy="923.5" r="2.7" fill="url(#gC)" stroke="#4a4a4a" stroke-width="0.6"/>
<circle cx="503.0" cy="922.6" r="2.7" fill="url(#gC)" stroke="#4a4a4a" stroke-width="0.6"/>
<circle cx="506.6" cy="910.8" r="2.6" fill="url(#gO)" stroke="#7a1a1a" stroke-width="0.6"/>
<circle cx="513.0" cy="901.6" r="2.7" fill="url(#gC)" stroke="#4a4a4a" stroke-width="0.6"/>
<circle cx="518.5" cy="892.5" r="2.6" fill="url(#gO)" stroke="#7a1a1a" stroke-width="0.6"/>
<circle cx="523.9" cy="881.6" r="2.7" fill="url(#gC)" stroke="#4a4a4a" stroke-width="0.6"/>
<circle cx="523.9" cy="871.5" r="2.7" fill="url(#gC)" stroke="#4a4a4a" stroke-width="0.6"/>
<circle cx="536.7" cy="884.3" r="2.7" fill="url(#gC)" stroke="#4a4a4a" stroke-width="0.6"/>
<circle cx="510.3" cy="910.8" r="2.7" fill="url(#gC)" stroke="#4a4a4a" stroke-width="0.6"/>
<circle cx="514.8" cy="913.5" r="2.7" fill="url(#gC)" stroke="#4a4a4a" stroke-width="0.6"/>
<circle cx="525.8" cy="918.1" r="2.7" fill="url(#gC)" stroke="#4a4a4a" stroke-width="0.6"/>
<circle cx="534.0" cy="920.8" r="2.7" fill="url(#gC)" stroke="#4a4a4a" stroke-width="0.6"/>
<circle cx="546.8" cy="926.3" r="2.7" fill="url(#gC)" stroke="#4a4a4a" stroke-width="0.6"/>
<circle cx="534.0" cy="922.6" r="2.6" fill="url(#gO)" stroke="#7a1a1a" stroke-width="0.6"/>
<circle cx="495.1" cy="884.3" r="2.8" fill="url(#gPd)" stroke="#0e3444" stroke-width="0.6"/>
<circle cx="482.0" cy="883.4" r="2.7" fill="url(#gC)" stroke="#4a4a4a" stroke-width="0.6"/>
<circle cx="513.9" cy="885.2" r="2.5" fill="url(#gF)" stroke="#6aa0a4" stroke-width="0.6"/>
<circle cx="556.8" cy="876.1" r="2.7" fill="url(#gC)" stroke="#4a4a4a" stroke-width="0.6"/>
<circle cx="560.4" cy="879.7" r="2.7" fill="url(#gC)" stroke="#4a4a4a" stroke-width="0.6"/>
<path d="M573.6 830.2L587.3 828.7M587.3 828.7L593.9 839.7M593.9 839.7L581.6 835.9M593.9 839.7L607.2 839.7M607.2 839.7L615.7 852.0M615.7 852.0L609.1 858.7M609.1 858.7L598.3 852.6M598.3 852.6L593.9 839.7M607.2 843.5L606.2 849.5M626.7 837.4L630.5 838.2M630.5 838.2L634.7 839.3M626.7 837.4L638.5 834.9M609.1 858.7L600.5 870.0M564.5 872.9L579.7 880.5M579.7 880.5L587.3 882.4M587.3 882.4L593.0 887.1M593.0 887.1L579.7 880.5M557.8 875.7L564.5 872.9M564.5 872.9L566.4 879.5M566.4 879.5L579.7 880.5M590.1 872.9L586.9 864.0M590.1 872.9L603.4 869.1M590.1 872.9L593.0 887.1M593.0 887.1L599.6 887.1M599.6 887.1L601.5 900.4M601.5 900.4L596.8 913.7M596.8 913.7L583.5 911.8M583.5 911.8L586.3 898.5M586.3 898.5L593.0 887.1M583.5 911.8L575.9 922.2M575.9 922.2L561.6 919.4M561.6 919.4L557.8 913.7M561.6 919.4L555.9 909.9M575.9 922.2L582.5 923.2M582.5 923.2L571.1 920.3M596.8 913.7L602.4 927.0M602.4 927.0L593.9 937.4M593.9 937.4L580.6 934.6M580.6 934.6L575.9 922.2M593.9 937.4L600.5 950.7M600.5 950.7L612.9 950.7M600.5 950.7L593.0 959.2M600.5 950.7L602.4 957.3M582.5 923.2L592.0 928.9M580.6 934.6L580.6 934.6M607.8 900.0L601.5 900.4M607.8 900.0L620.5 903.8M620.5 903.8L630.0 908.0M630.0 908.0L628.1 921.3M628.1 921.3L628.1 935.5M628.1 935.5L614.8 943.7M628.1 935.5L639.5 945.0M630.0 908.0L642.3 911.8M642.3 911.8L651.8 915.6M651.8 915.6L655.6 918.4M655.6 918.4L668.9 922.2M607.8 900.0L611.9 904.2M625.2 895.7L632.8 897.6M632.8 897.6L630.0 908.0M632.8 897.6L638.5 885.2M638.5 885.2L633.8 871.0M638.5 885.2L653.7 884.8" stroke="#111" stroke-width="1.5" fill="none" stroke-linecap="round"/>
<line x1="615.7" y1="852.0" x2="626.7" y2="837.4" stroke="#b04040" stroke-width="1.0" stroke-dasharray="1.6 1.1"/>
<line x1="606.6" y1="878.0" x2="607.8" y2="900.0" stroke="#b5b870" stroke-width="1.0" stroke-dasharray="1.6 1.1"/>
<line x1="606.6" y1="878.0" x2="590.1" y2="877.6" stroke="#b5b870" stroke-width="1.0" stroke-dasharray="1.6 1.1"/>
<line x1="606.6" y1="878.0" x2="627.1" y2="877.6" stroke="#b5b870" stroke-width="1.0" stroke-dasharray="1.6 1.1"/>
<line x1="606.6" y1="878.0" x2="609.1" y2="858.7" stroke="#b04040" stroke-width="1.0" stroke-dasharray="1.6 1.1"/>
<circle cx="573.6" cy="830.2" r="2.7" fill="url(#gC)" stroke="#4a4a4a" stroke-width="0.6"/>
<circle cx="587.3" cy="828.7" r="2.6" fill="url(#gO)" stroke="#7a1a1a" stroke-width="0.6"/>
<circle cx="593.9" cy="839.7" r="2.7" fill="url(#gC)" stroke="#4a4a4a" stroke-width="0.6"/>
<circle cx="581.6" cy="835.9" r="2.6" fill="url(#gO)" stroke="#7a1a1a" stroke-width="0.6"/>
<circle cx="607.2" cy="839.7" r="2.7" fill="url(#gC)" stroke="#4a4a4a" stroke-width="0.6"/>
<circle cx="615.7" cy="852.0" r="2.7" fill="url(#gC)" stroke="#4a4a4a" stroke-width="0.6"/>
<circle cx="609.1" cy="858.7" r="2.7" fill="url(#gC)" stroke="#4a4a4a" stroke-width="0.6"/>
<circle cx="598.3" cy="852.6" r="2.6" fill="url(#gO)" stroke="#7a1a1a" stroke-width="0.6"/>
<circle cx="607.2" cy="843.5" r="2.7" fill="url(#gC)" stroke="#4a4a4a" stroke-width="0.6"/>
<circle cx="606.2" cy="849.5" r="2.6" fill="url(#gO)" stroke="#7a1a1a" stroke-width="0.6"/>
<circle cx="626.7" cy="837.4" r="2.6" fill="url(#gO)" stroke="#7a1a1a" stroke-width="0.6"/>
<circle cx="630.5" cy="838.2" r="2.6" fill="url(#gCu)" stroke="#5a3a10" stroke-width="0.6"/>
<circle cx="634.7" cy="839.3" r="2.8" fill="url(#gCl)" stroke="#2a6a1c" stroke-width="0.6"/>
<circle cx="638.5" cy="834.9" r="2.7" fill="url(#gC)" stroke="#4a4a4a" stroke-width="0.6"/>
<circle cx="600.5" cy="870.0" r="2.7" fill="url(#gC)" stroke="#4a4a4a" stroke-width="0.6"/>
<circle cx="564.5" cy="872.9" r="2.7" fill="url(#gC)" stroke="#4a4a4a" stroke-width="0.6"/>
<circle cx="579.7" cy="880.5" r="2.7" fill="url(#gC)" stroke="#4a4a4a" stroke-width="0.6"/>
<circle cx="587.3" cy="882.4" r="2.7" fill="url(#gC)" stroke="#4a4a4a" stroke-width="0.6"/>
<circle cx="593.0" cy="887.1" r="2.7" fill="url(#gC)" stroke="#4a4a4a" stroke-width="0.6"/>
<circle cx="557.8" cy="875.7" r="2.7" fill="url(#gC)" stroke="#4a4a4a" stroke-width="0.6"/>
<circle cx="566.4" cy="879.5" r="2.7" fill="url(#gC)" stroke="#4a4a4a" stroke-width="0.6"/>
<circle cx="590.1" cy="872.9" r="2.7" fill="url(#gC)" stroke="#4a4a4a" stroke-width="0.6"/>
<circle cx="586.9" cy="864.0" r="2.5" fill="url(#gF)" stroke="#6aa0a4" stroke-width="0.6"/>
<circle cx="603.4" cy="869.1" r="2.5" fill="url(#gF)" stroke="#6aa0a4" stroke-width="0.6"/>
<circle cx="599.6" cy="887.1" r="2.7" fill="url(#gC)" stroke="#4a4a4a" stroke-width="0.6"/>
<circle cx="601.5" cy="900.4" r="2.7" fill="url(#gC)" stroke="#4a4a4a" stroke-width="0.6"/>
<circle cx="596.8" cy="913.7" r="2.7" fill="url(#gC)" stroke="#4a4a4a" stroke-width="0.6"/>
<circle cx="583.5" cy="911.8" r="2.7" fill="url(#gC)" stroke="#4a4a4a" stroke-width="0.6"/>
<circle cx="586.3" cy="898.5" r="2.7" fill="url(#gC)" stroke="#4a4a4a" stroke-width="0.6"/>
<circle cx="575.9" cy="922.2" r="2.7" fill="url(#gC)" stroke="#4a4a4a" stroke-width="0.6"/>
<circle cx="561.6" cy="919.4" r="2.7" fill="url(#gC)" stroke="#4a4a4a" stroke-width="0.6"/>
<circle cx="557.8" cy="913.7" r="2.5" fill="url(#gF)" stroke="#6aa0a4" stroke-width="0.6"/>
<circle cx="555.9" cy="909.9" r="2.5" fill="url(#gF)" stroke="#6aa0a4" stroke-width="0.6"/>
<circle cx="582.5" cy="923.2" r="2.7" fill="url(#gC)" stroke="#4a4a4a" stroke-width="0.6"/>
<circle cx="571.1" cy="920.3" r="2.5" fill="url(#gF)" stroke="#6aa0a4" stroke-width="0.6"/>
<circle cx="602.4" cy="927.0" r="2.7" fill="url(#gC)" stroke="#4a4a4a" stroke-width="0.6"/>
<circle cx="593.9" cy="937.4" r="2.7" fill="url(#gC)" stroke="#4a4a4a" stroke-width="0.6"/>
<circle cx="580.6" cy="934.6" r="2.5" fill="url(#gF)" stroke="#6aa0a4" stroke-width="0.6"/>
<circle cx="600.5" cy="950.7" r="2.7" fill="url(#gC)" stroke="#4a4a4a" stroke-width="0.6"/>
<circle cx="612.9" cy="950.7" r="2.5" fill="url(#gF)" stroke="#6aa0a4" stroke-width="0.6"/>
<circle cx="593.0" cy="959.2" r="2.5" fill="url(#gF)" stroke="#6aa0a4" stroke-width="0.6"/>
<circle cx="602.4" cy="957.3" r="2.5" fill="url(#gF)" stroke="#6aa0a4" stroke-width="0.6"/>
<circle cx="592.0" cy="928.9" r="2.5" fill="url(#gF)" stroke="#6aa0a4" stroke-width="0.6"/>
<circle cx="607.8" cy="900.0" r="2.8" fill="url(#gP)" stroke="#7a4408" stroke-width="0.6"/>
<circle cx="620.5" cy="903.8" r="2.6" fill="url(#gO)" stroke="#7a1a1a" stroke-width="0.6"/>
<circle cx="630.0" cy="908.0" r="2.7" fill="url(#gC)" stroke="#4a4a4a" stroke-width="0.6"/>
<circle cx="628.1" cy="921.3" r="2.7" fill="url(#gC)" stroke="#4a4a4a" stroke-width="0.6"/>
<circle cx="628.1" cy="935.5" r="2.7" fill="url(#gC)" stroke="#4a4a4a" stroke-width="0.6"/>
<circle cx="614.8" cy="943.7" r="2.7" fill="url(#gC)" stroke="#4a4a4a" stroke-width="0.6"/>
<circle cx="639.5" cy="945.0" r="2.7" fill="url(#gC)" stroke="#4a4a4a" stroke-width="0.6"/>
<circle cx="642.3" cy="911.8" r="2.7" fill="url(#gC)" stroke="#4a4a4a" stroke-width="0.6"/>
<circle cx="651.8" cy="915.6" r="2.7" fill="url(#gC)" stroke="#4a4a4a" stroke-width="0.6"/>
<circle cx="655.6" cy="918.4" r="2.6" fill="url(#gO)" stroke="#7a1a1a" stroke-width="0.6"/>
<circle cx="668.9" cy="922.2" r="2.7" fill="url(#gC)" stroke="#4a4a4a" stroke-width="0.6"/>
<circle cx="611.9" cy="904.2" r="2.7" fill="url(#gC)" stroke="#4a4a4a" stroke-width="0.6"/>
<circle cx="625.2" cy="895.7" r="2.7" fill="url(#gC)" stroke="#4a4a4a" stroke-width="0.6"/>
<circle cx="632.8" cy="897.6" r="2.7" fill="url(#gC)" stroke="#4a4a4a" stroke-width="0.6"/>
<circle cx="638.5" cy="885.2" r="2.7" fill="url(#gC)" stroke="#4a4a4a" stroke-width="0.6"/>
<circle cx="633.8" cy="871.0" r="2.7" fill="url(#gC)" stroke="#4a4a4a" stroke-width="0.6"/>
<circle cx="653.7" cy="884.8" r="2.7" fill="url(#gC)" stroke="#4a4a4a" stroke-width="0.6"/>
<circle cx="606.6" cy="878.0" r="2.8" fill="url(#gPd)" stroke="#0e3444" stroke-width="0.6"/>
<circle cx="590.1" cy="877.6" r="2.7" fill="url(#gC)" stroke="#4a4a4a" stroke-width="0.6"/>
<circle cx="627.1" cy="877.6" r="2.5" fill="url(#gF)" stroke="#6aa0a4" stroke-width="0.6"/>
<path d="M503.9 879.7 Q502.0 875.2 504.8 871.5" stroke="#f03a2a" stroke-width="1.3" fill="none"/>
<path d="M505.1 871.1 L501.4 873.0 L504.3 875.2Z" fill="#f03a2a"/>
<path d="M510.3 866.1 Q514.8 862.4 516.6 856.0" stroke="#f03a2a" stroke-width="1.3" fill="none"/>
<path d="M516.8 855.4 L514.0 858.6 L517.5 859.6Z" fill="#f03a2a"/>
<path d="M611.9 874.8 Q615.7 870.0 615.7 863.4" stroke="#f03a2a" stroke-width="1.3" fill="none"/>
<path d="M615.7 862.8 L613.9 866.6 L617.5 866.6Z" fill="#f03a2a"/>
<path d="M623.3 854.9 Q628.1 852.0 629.0 844.4" stroke="#f03a2a" stroke-width="1.3" fill="none"/>
<path d="M629.1 843.8 L626.8 847.4 L630.4 847.8Z" fill="#f03a2a"/>
<text x="76.8" y="893.6" font-size="12" fill="#2f5d9f" stroke="#2f5d9f" stroke-width="0.22">nbo<tspan font-size="8.5" dy="2.8">Pd</tspan></text>
<text x="76.8" y="906.2" font-size="12" fill="#2f5d9f" stroke="#2f5d9f" stroke-width="0.22">0.18</text>
<text x="187.9" y="890.3" font-size="12" fill="#2f5d9f" stroke="#2f5d9f" stroke-width="0.22">nbo<tspan font-size="8.5" dy="2.8">Pd</tspan></text>
<text x="187.9" y="903" font-size="12" fill="#2f5d9f" stroke="#2f5d9f" stroke-width="0.22">0.16</text>
<text x="64.5" y="976" font-size="10.5" fill="#a886ee" stroke="#a886ee" stroke-width="0.22" text-anchor="middle">int3</text>
<text x="185.5" y="976" font-size="10.5" fill="#a886ee" stroke="#a886ee" stroke-width="0.22" text-anchor="middle">int3'</text>
<text x="287" y="976" font-size="10.5" fill="#a886ee" stroke="#a886ee" stroke-width="0.22" text-anchor="middle">ts-2</text>
<text x="393" y="976" font-size="10.5" fill="#a886ee" stroke="#a886ee" stroke-width="0.22" text-anchor="middle">ts-2'</text>
<text x="502.3" y="976" font-size="10.5" fill="#7a7a7a" stroke="#7a7a7a" stroke-width="0.22" text-anchor="middle">ts-2a</text>
<text x="613.2" y="976" font-size="10.5" fill="#7a7a7a" stroke="#7a7a7a" stroke-width="0.22" text-anchor="middle">ts-2a'</text>
<path d="M99.7 426.6L103.9 428.9M103.9 428.9L115.2 440.8M115.2 440.8L113.5 445.0M113.5 445.0L109.1 443.0M109.1 443.0L98.4 429.9M98.4 429.9L99.7 426.6M113.5 445.0L124.4 460.1M74.7 431.8L72.1 442.3M72.1 442.3L60.9 443.7M72.1 442.3L77.0 437.0M72.1 442.3L79.3 451.5M79.3 451.5L89.2 456.1M89.2 456.1L94.4 465.3M94.4 465.3L91.8 468.6M91.8 468.6L81.0 463.0M81.0 463.0L76.0 454.8M76.0 454.8L79.3 451.5M94.4 465.3L107.6 471.2M67.5 469.3L76.7 468.6M76.7 468.6L72.1 462.7M70.1 479.8L76.7 468.6M76.7 468.6L84.6 476.5M76.7 468.6L89.8 473.9M89.8 473.9L98.4 473.9M98.4 473.9L107.6 471.2M107.6 471.2L111.5 484.4M111.5 484.4L110.2 494.9M110.2 494.9L104.9 498.8M104.9 498.8L101.0 504.1M101.0 504.1L88.5 503.4M88.5 503.4L83.9 502.1M83.9 502.1L90.5 498.8M90.5 498.8L110.2 494.9M83.9 502.1L85.2 496.2M85.2 496.2L72.1 497.5M72.1 497.5L67.5 486.3M110.2 494.9L115.4 500.8M115.4 500.8L112.8 516.6M111.5 484.4L122.7 491.6M122.7 491.6L126.0 506.7M126.0 506.7L139.1 502.8M126.0 506.7L126.0 519.9M107.6 471.2L118.1 471.9M118.1 471.9L126.6 468.0M172.8 452.6L170.8 439.4M170.8 439.4L172.2 426.9M165.2 422.0L170.8 420.0M170.8 420.0L180.5 419.7M180.5 419.7L192.3 420.0M192.3 420.0L197.8 421.4M197.8 421.4L193.0 424.8M193.0 424.8L180.5 424.8M180.5 424.8L172.2 426.9M172.2 426.9L165.2 422.0M193.0 424.8L194.3 427.2M194.3 427.2L208.2 426.2M208.2 426.2L213.8 436.6M165.2 422.0L160.4 423.4M160.4 423.4L158.3 431.8M158.3 431.8L163.1 441.5M163.1 441.5L172.8 452.6M160.4 423.4L154.1 416.5M154.1 416.5L142.3 420.4M154.1 416.5L156.2 403.3M167.0 421.0L168.7 407.5M168.7 407.5L163.1 397.5M172.8 452.6L184.6 448.4M184.6 448.4L195.7 449.1M195.7 449.1L202.7 450.5M211.0 443.5L202.7 450.5M202.7 450.5L212.4 454.6M202.7 450.5L206.0 445.0M172.8 452.6L188.8 458.1M188.8 458.1L194.3 467.1M194.3 467.1L204.1 468.5M204.1 468.5L202.0 461.6M202.0 461.6L195.0 456.0M195.0 456.0L188.8 458.1M204.1 468.5L208.2 481.0M216.5 480.3L208.2 481.0M208.2 481.0L206.8 490.7M208.2 481.0L213.8 486.0M166.6 478.2L170.8 479.6M170.8 479.6L179.8 492.1M179.8 492.1L177.7 494.9M177.7 494.9L172.8 492.1M172.8 492.1L166.6 482.4M166.6 482.4L166.6 478.2M157.6 463.0L166.6 478.2M152.0 445.6L159.7 449.8M159.7 449.8L163.8 442.2M159.7 449.8L160.4 459.5M159.7 449.8L162.4 453.0M120.7 465.3L124.0 470.0M124.0 470.0L128.6 477.8M124.0 470.0L115.4 481.1" stroke="#5f5858" stroke-width="2.1" fill="none" stroke-linecap="round"/>
<path d="M99.7 426.6L101.8 427.8M103.9 428.9L101.8 427.8M103.9 428.9L109.6 434.9M115.2 440.8L109.6 434.9M115.2 440.8L114.3 442.9M113.5 445.0L114.3 442.9M113.5 445.0L111.3 444.0M109.1 443.0L111.3 444.0M109.1 443.0L103.8 436.4M98.4 429.9L103.8 436.4M98.4 429.9L99.1 428.2M99.7 426.6L99.1 428.2M113.5 445.0L119.0 452.6M124.4 460.1L119.0 452.6M72.1 442.3L73.4 437.1M72.1 442.3L66.5 443.0M72.1 442.3L74.5 439.6M72.1 442.3L75.7 446.9M79.3 451.5L75.7 446.9M79.3 451.5L84.2 453.8M89.2 456.1L84.2 453.8M89.2 456.1L91.8 460.7M94.4 465.3L91.8 460.7M94.4 465.3L93.1 467.0M91.8 468.6L93.1 467.0M91.8 468.6L86.4 465.8M81.0 463.0L86.4 465.8M81.0 463.0L78.5 458.9M76.0 454.8L78.5 458.9M76.0 454.8L77.7 453.1M79.3 451.5L77.7 453.1M94.4 465.3L101.0 468.2M76.7 468.6L72.1 469.0M76.7 468.6L74.4 465.6M76.7 468.6L73.4 474.2M76.7 468.6L80.7 472.6M76.7 468.6L83.2 471.2M89.8 473.9L83.2 471.2M89.8 473.9L94.1 473.9M98.4 473.9L94.1 473.9M98.4 473.9L103.0 472.5M111.5 484.4L109.5 477.8M111.5 484.4L110.8 489.6M110.2 494.9L110.8 489.6M110.2 494.9L107.6 496.9M104.9 498.8L107.6 496.9M104.9 498.8L103.0 501.5M101.0 504.1L103.0 501.5M101.0 504.1L94.8 503.8M88.5 503.4L94.8 503.8M88.5 503.4L86.2 502.8M83.9 502.1L86.2 502.8M83.9 502.1L87.2 500.5M90.5 498.8L87.2 500.5M90.5 498.8L100.3 496.9M110.2 494.9L100.3 496.9M83.9 502.1L84.6 499.1M72.1 497.5L78.7 496.9M72.1 497.5L69.8 491.9M67.5 486.3L69.8 491.9M110.2 494.9L112.8 497.9M111.5 484.4L117.1 488.0M122.7 491.6L117.1 488.0M122.7 491.6L124.3 499.1M126.0 506.7L124.3 499.1M126.0 506.7L132.6 504.8M139.1 502.8L132.6 504.8M126.0 506.7L126.0 513.3M126.0 519.9L126.0 513.3M126.6 468.0L122.3 469.9M170.8 439.4L171.8 446.0M170.8 439.4L171.5 433.1M172.2 426.9L171.5 433.1M165.2 422.0L168.0 421.0M170.8 420.0L168.0 421.0M170.8 420.0L175.7 419.9M180.5 419.7L175.7 419.9M180.5 419.7L186.4 419.9M192.3 420.0L186.4 419.9M192.3 420.0L195.1 420.7M197.8 421.4L195.1 420.7M197.8 421.4L195.4 423.1M193.0 424.8L195.4 423.1M193.0 424.8L186.8 424.8M180.5 424.8L186.8 424.8M180.5 424.8L176.3 425.9M172.2 426.9L176.3 425.9M172.2 426.9L168.7 424.4M165.2 422.0L168.7 424.4M193.0 424.8L193.7 426.0M208.2 426.2L201.2 426.7M208.2 426.2L211.0 431.4M213.8 436.6L211.0 431.4M165.2 422.0L162.8 422.7M158.3 431.8L159.4 427.6M158.3 431.8L160.7 436.6M163.1 441.5L160.7 436.6M163.1 441.5L167.9 447.1M154.1 416.5L157.2 419.9M154.1 416.5L148.2 418.4M142.3 420.4L148.2 418.4M154.1 416.5L155.1 409.9M156.2 403.3L155.1 409.9M167.0 421.0L167.8 414.2M163.1 397.5L165.9 402.5M184.6 448.4L178.7 450.5M184.6 448.4L190.1 448.8M195.7 449.1L190.1 448.8M195.7 449.1L199.2 449.8M202.7 450.5L199.2 449.8M202.7 450.5L206.8 447.0M202.7 450.5L207.6 452.6M202.7 450.5L204.3 447.8M188.8 458.1L180.8 455.4M188.8 458.1L191.6 462.6M194.3 467.1L191.6 462.6M194.3 467.1L199.2 467.8M204.1 468.5L199.2 467.8M204.1 468.5L203.1 465.1M202.0 461.6L203.1 465.1M202.0 461.6L198.5 458.8M195.0 456.0L198.5 458.8M195.0 456.0L191.9 457.1M188.8 458.1L191.9 457.1M204.1 468.5L206.1 474.8M208.2 481.0L206.1 474.8M208.2 481.0L212.3 480.6M208.2 481.0L207.5 485.9M208.2 481.0L211.0 483.5M166.6 478.2L168.7 478.9M170.8 479.6L168.7 478.9M170.8 479.6L175.3 485.9M179.8 492.1L175.3 485.9M179.8 492.1L178.8 493.5M177.7 494.9L178.8 493.5M177.7 494.9L175.2 493.5M172.8 492.1L175.2 493.5M172.8 492.1L169.7 487.2M166.6 482.4L169.7 487.2M166.6 482.4L166.6 480.3M166.6 478.2L166.6 480.3M157.6 463.0L162.1 470.6M166.6 478.2L162.1 470.6M159.7 449.8L155.8 447.7M159.7 449.8L161.8 446.0M159.7 449.8L160.1 454.6M159.7 449.8L161.1 451.4M124.0 470.0L122.3 467.6M124.0 470.0L126.3 473.9M124.0 470.0L119.7 475.6" stroke="#c9bfbf" stroke-width="1.0" fill="none" stroke-linecap="round"/>
<path d="M74.7 431.8L73.4 437.1M60.9 443.7L66.5 443.0M77.0 437.0L74.5 439.6M67.5 469.3L72.1 469.0M72.1 462.7L74.4 465.6M70.1 479.8L73.4 474.2M84.6 476.5L80.7 472.6M211.0 443.5L206.8 447.0M212.4 454.6L207.6 452.6M206.0 445.0L204.3 447.8M216.5 480.3L212.3 480.6M206.8 490.7L207.5 485.9M213.8 486.0L211.0 483.5M152.0 445.6L155.8 447.7M163.8 442.2L161.8 446.0M160.4 459.5L160.1 454.6M120.7 465.3L122.3 467.6M128.6 477.8L126.3 473.9M115.4 481.1L119.7 475.6" stroke="#6ee64a" stroke-width="1.0" fill="none" stroke-linecap="round"/>
<path d="M107.6 471.2L101.0 468.2M107.6 471.2L103.0 472.5M107.6 471.2L109.5 477.8M107.6 471.2L112.8 471.5M172.8 452.6L171.8 446.0M172.8 452.6L167.9 447.1M172.8 452.6L178.7 450.5M172.8 452.6L180.8 455.4" stroke="#b050d0" stroke-width="1.0" fill="none" stroke-linecap="round"/>
<path d="M85.2 496.2L84.6 499.1M85.2 496.2L78.7 496.9M115.4 500.8L112.8 497.9M115.4 500.8L114.1 508.7M112.8 516.6L114.1 508.7M118.1 471.9L112.8 471.5M118.1 471.9L122.3 469.9M194.3 427.2L193.7 426.0M194.3 427.2L201.2 426.7M160.4 423.4L162.8 422.7M160.4 423.4L159.4 427.6M160.4 423.4L157.2 419.9M168.7 407.5L167.8 414.2M168.7 407.5L165.9 402.5M162.4 453.0L161.1 451.4" stroke="#e85050" stroke-width="1.0" fill="none" stroke-linecap="round"/>
<line x1="124.4" y1="460.1" x2="132.9" y2="453.2" stroke="#3a4f96" stroke-width="2.0"/>
<line x1="132.9" y1="453.2" x2="141.4" y2="446.3" stroke="#e6e070" stroke-width="2.0"/>
<line x1="124.4" y1="460.1" x2="132.1" y2="468.6" stroke="#3a4f96" stroke-width="2.0"/>
<line x1="132.1" y1="468.6" x2="139.7" y2="477.2" stroke="#e6e070" stroke-width="2.0"/>
<line x1="157.6" y1="463" x2="149.5" y2="454.6" stroke="#3a4f96" stroke-width="2.0"/>
<line x1="149.5" y1="454.6" x2="141.4" y2="446.3" stroke="#e6e070" stroke-width="2.0"/>
<line x1="157.6" y1="463" x2="148.6" y2="470.1" stroke="#3a4f96" stroke-width="2.0"/>
<line x1="148.6" y1="470.1" x2="139.7" y2="477.2" stroke="#e6e070" stroke-width="2.0"/>
<line x1="124.4" y1="460.1" x2="116.0" y2="465.6" stroke="#2a3f80" stroke-width="2.0"/>
<line x1="116.0" y1="465.6" x2="107.6" y2="471.2" stroke="#a23cc0" stroke-width="2.0"/>
<line x1="157.6" y1="463" x2="165.2" y2="457.8" stroke="#2a3f80" stroke-width="2.0"/>
<line x1="165.2" y1="457.8" x2="172.8" y2="452.6" stroke="#a23cc0" stroke-width="2.0"/>
<circle cx="99.7" cy="426.6" r="1.45" fill="#a09a9a" stroke="#3a3a3a" stroke-width="0.35"/>
<circle cx="103.9" cy="428.9" r="1.45" fill="#a09a9a" stroke="#3a3a3a" stroke-width="0.35"/>
<circle cx="115.2" cy="440.8" r="1.45" fill="#a09a9a" stroke="#3a3a3a" stroke-width="0.35"/>
<circle cx="113.5" cy="445" r="1.45" fill="#a09a9a" stroke="#3a3a3a" stroke-width="0.35"/>
<circle cx="109.1" cy="443" r="1.45" fill="#a09a9a" stroke="#3a3a3a" stroke-width="0.35"/>
<circle cx="98.4" cy="429.9" r="1.45" fill="#a09a9a" stroke="#3a3a3a" stroke-width="0.35"/>
<circle cx="72.1" cy="442.3" r="1.45" fill="#a09a9a" stroke="#3a3a3a" stroke-width="0.35"/>
<circle cx="79.3" cy="451.5" r="1.45" fill="#a09a9a" stroke="#3a3a3a" stroke-width="0.35"/>
<circle cx="89.2" cy="456.1" r="1.45" fill="#a09a9a" stroke="#3a3a3a" stroke-width="0.35"/>
<circle cx="94.4" cy="465.3" r="1.45" fill="#a09a9a" stroke="#3a3a3a" stroke-width="0.35"/>
<circle cx="91.8" cy="468.6" r="1.45" fill="#a09a9a" stroke="#3a3a3a" stroke-width="0.35"/>
<circle cx="81" cy="463" r="1.45" fill="#a09a9a" stroke="#3a3a3a" stroke-width="0.35"/>
<circle cx="76" cy="454.8" r="1.45" fill="#a09a9a" stroke="#3a3a3a" stroke-width="0.35"/>
<circle cx="76.7" cy="468.6" r="1.45" fill="#a09a9a" stroke="#3a3a3a" stroke-width="0.35"/>
<circle cx="89.8" cy="473.9" r="1.45" fill="#a09a9a" stroke="#3a3a3a" stroke-width="0.35"/>
<circle cx="98.4" cy="473.9" r="1.45" fill="#a09a9a" stroke="#3a3a3a" stroke-width="0.35"/>
<circle cx="111.5" cy="484.4" r="1.45" fill="#a09a9a" stroke="#3a3a3a" stroke-width="0.35"/>
<circle cx="110.2" cy="494.9" r="1.45" fill="#a09a9a" stroke="#3a3a3a" stroke-width="0.35"/>
<circle cx="104.9" cy="498.8" r="1.45" fill="#a09a9a" stroke="#3a3a3a" stroke-width="0.35"/>
<circle cx="101" cy="504.1" r="1.45" fill="#a09a9a" stroke="#3a3a3a" stroke-width="0.35"/>
<circle cx="88.5" cy="503.4" r="1.45" fill="#a09a9a" stroke="#3a3a3a" stroke-width="0.35"/>
<circle cx="83.9" cy="502.1" r="1.45" fill="#a09a9a" stroke="#3a3a3a" stroke-width="0.35"/>
<circle cx="90.5" cy="498.8" r="1.45" fill="#a09a9a" stroke="#3a3a3a" stroke-width="0.35"/>
<circle cx="72.1" cy="497.5" r="1.45" fill="#a09a9a" stroke="#3a3a3a" stroke-width="0.35"/>
<circle cx="67.5" cy="486.3" r="1.45" fill="#a09a9a" stroke="#3a3a3a" stroke-width="0.35"/>
<circle cx="122.7" cy="491.6" r="1.45" fill="#a09a9a" stroke="#3a3a3a" stroke-width="0.35"/>
<circle cx="126" cy="506.7" r="1.45" fill="#a09a9a" stroke="#3a3a3a" stroke-width="0.35"/>
<circle cx="139.1" cy="502.8" r="1.45" fill="#a09a9a" stroke="#3a3a3a" stroke-width="0.35"/>
<circle cx="126" cy="519.9" r="1.45" fill="#a09a9a" stroke="#3a3a3a" stroke-width="0.35"/>
<circle cx="126.6" cy="468" r="1.45" fill="#a09a9a" stroke="#3a3a3a" stroke-width="0.35"/>
<circle cx="170.8" cy="439.4" r="1.45" fill="#a09a9a" stroke="#3a3a3a" stroke-width="0.35"/>
<circle cx="172.2" cy="426.9" r="1.45" fill="#a09a9a" stroke="#3a3a3a" stroke-width="0.35"/>
<circle cx="165.2" cy="422" r="1.45" fill="#a09a9a" stroke="#3a3a3a" stroke-width="0.35"/>
<circle cx="170.8" cy="420" r="1.45" fill="#a09a9a" stroke="#3a3a3a" stroke-width="0.35"/>
<circle cx="180.5" cy="419.7" r="1.45" fill="#a09a9a" stroke="#3a3a3a" stroke-width="0.35"/>
<circle cx="192.3" cy="420" r="1.45" fill="#a09a9a" stroke="#3a3a3a" stroke-width="0.35"/>
<circle cx="197.8" cy="421.4" r="1.45" fill="#a09a9a" stroke="#3a3a3a" stroke-width="0.35"/>
<circle cx="193" cy="424.8" r="1.45" fill="#a09a9a" stroke="#3a3a3a" stroke-width="0.35"/>
<circle cx="180.5" cy="424.8" r="1.45" fill="#a09a9a" stroke="#3a3a3a" stroke-width="0.35"/>
<circle cx="208.2" cy="426.2" r="1.45" fill="#a09a9a" stroke="#3a3a3a" stroke-width="0.35"/>
<circle cx="213.8" cy="436.6" r="1.45" fill="#a09a9a" stroke="#3a3a3a" stroke-width="0.35"/>
<circle cx="158.3" cy="431.8" r="1.45" fill="#a09a9a" stroke="#3a3a3a" stroke-width="0.35"/>
<circle cx="163.1" cy="441.5" r="1.45" fill="#a09a9a" stroke="#3a3a3a" stroke-width="0.35"/>
<circle cx="154.1" cy="416.5" r="1.45" fill="#a09a9a" stroke="#3a3a3a" stroke-width="0.35"/>
<circle cx="142.3" cy="420.4" r="1.45" fill="#a09a9a" stroke="#3a3a3a" stroke-width="0.35"/>
<circle cx="156.2" cy="403.3" r="1.45" fill="#a09a9a" stroke="#3a3a3a" stroke-width="0.35"/>
<circle cx="167" cy="421" r="1.45" fill="#a09a9a" stroke="#3a3a3a" stroke-width="0.35"/>
<circle cx="163.1" cy="397.5" r="1.45" fill="#a09a9a" stroke="#3a3a3a" stroke-width="0.35"/>
<circle cx="184.6" cy="448.4" r="1.45" fill="#a09a9a" stroke="#3a3a3a" stroke-width="0.35"/>
<circle cx="195.7" cy="449.1" r="1.45" fill="#a09a9a" stroke="#3a3a3a" stroke-width="0.35"/>
<circle cx="202.7" cy="450.5" r="1.45" fill="#a09a9a" stroke="#3a3a3a" stroke-width="0.35"/>
<circle cx="188.8" cy="458.1" r="1.45" fill="#a09a9a" stroke="#3a3a3a" stroke-width="0.35"/>
<circle cx="194.3" cy="467.1" r="1.45" fill="#a09a9a" stroke="#3a3a3a" stroke-width="0.35"/>
<circle cx="204.1" cy="468.5" r="1.45" fill="#a09a9a" stroke="#3a3a3a" stroke-width="0.35"/>
<circle cx="202" cy="461.6" r="1.45" fill="#a09a9a" stroke="#3a3a3a" stroke-width="0.35"/>
<circle cx="195" cy="456" r="1.45" fill="#a09a9a" stroke="#3a3a3a" stroke-width="0.35"/>
<circle cx="208.2" cy="481" r="1.45" fill="#a09a9a" stroke="#3a3a3a" stroke-width="0.35"/>
<circle cx="166.6" cy="478.2" r="1.45" fill="#a09a9a" stroke="#3a3a3a" stroke-width="0.35"/>
<circle cx="170.8" cy="479.6" r="1.45" fill="#a09a9a" stroke="#3a3a3a" stroke-width="0.35"/>
<circle cx="179.8" cy="492.1" r="1.45" fill="#a09a9a" stroke="#3a3a3a" stroke-width="0.35"/>
<circle cx="177.7" cy="494.9" r="1.45" fill="#a09a9a" stroke="#3a3a3a" stroke-width="0.35"/>
<circle cx="172.8" cy="492.1" r="1.45" fill="#a09a9a" stroke="#3a3a3a" stroke-width="0.35"/>
<circle cx="166.6" cy="482.4" r="1.45" fill="#a09a9a" stroke="#3a3a3a" stroke-width="0.35"/>
<circle cx="159.7" cy="449.8" r="1.45" fill="#a09a9a" stroke="#3a3a3a" stroke-width="0.35"/>
<circle cx="124" cy="470" r="1.45" fill="#a09a9a" stroke="#3a3a3a" stroke-width="0.35"/>
<circle cx="85.2" cy="496.2" r="1.6" fill="#e03a3a" stroke="#3a3a3a" stroke-width="0.35"/>
<circle cx="118.1" cy="471.9" r="1.6" fill="#e03a3a" stroke="#3a3a3a" stroke-width="0.35"/>
<circle cx="115.4" cy="500.8" r="1.6" fill="#e03a3a" stroke="#3a3a3a" stroke-width="0.35"/>
<circle cx="112.8" cy="516.6" r="1.6" fill="#e03a3a" stroke="#3a3a3a" stroke-width="0.35"/>
<circle cx="194.3" cy="427.2" r="1.6" fill="#e03a3a" stroke="#3a3a3a" stroke-width="0.35"/>
<circle cx="168.7" cy="407.5" r="1.6" fill="#e03a3a" stroke="#3a3a3a" stroke-width="0.35"/>
<circle cx="160.4" cy="423.4" r="1.6" fill="#e03a3a" stroke="#3a3a3a" stroke-width="0.35"/>
<circle cx="162.4" cy="453" r="1.6" fill="#e03a3a" stroke="#3a3a3a" stroke-width="0.35"/>
<circle cx="74.7" cy="431.8" r="1.7" fill="#5ee03a" stroke="#3a3a3a" stroke-width="0.35"/>
<circle cx="60.9" cy="443.7" r="1.7" fill="#5ee03a" stroke="#3a3a3a" stroke-width="0.35"/>
<circle cx="77" cy="437" r="1.7" fill="#5ee03a" stroke="#3a3a3a" stroke-width="0.35"/>
<circle cx="67.5" cy="469.3" r="1.7" fill="#5ee03a" stroke="#3a3a3a" stroke-width="0.35"/>
<circle cx="72.1" cy="462.7" r="1.7" fill="#5ee03a" stroke="#3a3a3a" stroke-width="0.35"/>
<circle cx="70.1" cy="479.8" r="1.7" fill="#5ee03a" stroke="#3a3a3a" stroke-width="0.35"/>
<circle cx="84.6" cy="476.5" r="1.7" fill="#5ee03a" stroke="#3a3a3a" stroke-width="0.35"/>
<circle cx="120.7" cy="465.3" r="1.7" fill="#5ee03a" stroke="#3a3a3a" stroke-width="0.35"/>
<circle cx="128.6" cy="477.8" r="1.7" fill="#5ee03a" stroke="#3a3a3a" stroke-width="0.35"/>
<circle cx="115.4" cy="481.1" r="1.7" fill="#5ee03a" stroke="#3a3a3a" stroke-width="0.35"/>
<circle cx="211" cy="443.5" r="1.7" fill="#5ee03a" stroke="#3a3a3a" stroke-width="0.35"/>
<circle cx="212.4" cy="454.6" r="1.7" fill="#5ee03a" stroke="#3a3a3a" stroke-width="0.35"/>
<circle cx="206" cy="445" r="1.7" fill="#5ee03a" stroke="#3a3a3a" stroke-width="0.35"/>
<circle cx="216.5" cy="480.3" r="1.7" fill="#5ee03a" stroke="#3a3a3a" stroke-width="0.35"/>
<circle cx="206.8" cy="490.7" r="1.7" fill="#5ee03a" stroke="#3a3a3a" stroke-width="0.35"/>
<circle cx="213.8" cy="486" r="1.7" fill="#5ee03a" stroke="#3a3a3a" stroke-width="0.35"/>
<circle cx="152" cy="445.6" r="1.7" fill="#5ee03a" stroke="#3a3a3a" stroke-width="0.35"/>
<circle cx="163.8" cy="442.2" r="1.7" fill="#5ee03a" stroke="#3a3a3a" stroke-width="0.35"/>
<circle cx="160.4" cy="459.5" r="1.7" fill="#5ee03a" stroke="#3a3a3a" stroke-width="0.35"/>
<circle cx="107.6" cy="471.2" r="2.3" fill="#a23cc0" stroke="#3a3a3a" stroke-width="0.35"/>
<circle cx="172.8" cy="452.6" r="2.3" fill="#a23cc0" stroke="#3a3a3a" stroke-width="0.35"/>
<circle cx="124.4" cy="460.1" r="2.5" fill="#2a3f80" stroke="#3a3a3a" stroke-width="0.35"/>
<circle cx="157.6" cy="463" r="2.5" fill="#2a3f80" stroke="#3a3a3a" stroke-width="0.35"/>
<circle cx="141.4" cy="446.3" r="2.4" fill="#ece46a" stroke="#3a3a3a" stroke-width="0.35"/>
<circle cx="139.7" cy="477.2" r="2.4" fill="#ece46a" stroke="#3a3a3a" stroke-width="0.35"/>
<text x="103.4" y="463.3" font-size="10.5" fill="#111" stroke="#111" stroke-width="0.22">Pd</text>
<text x="164.2" y="469" font-size="10.5" fill="#111" stroke="#111" stroke-width="0.22">Pd</text>
<line x1="141.4" y1="434.5" x2="141.4" y2="441.5" stroke="#111" stroke-width="1"/>
<line x1="140.6" y1="482.5" x2="140.6" y2="489.5" stroke="#111" stroke-width="1"/>
</svg>
</body></html>
